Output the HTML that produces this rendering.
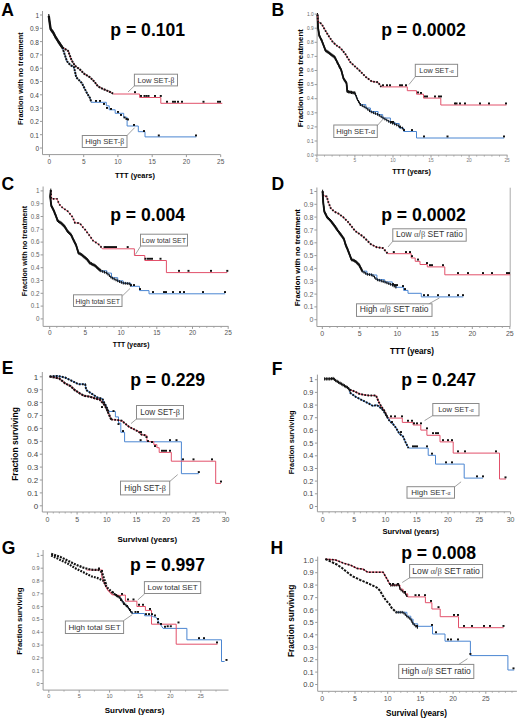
<!DOCTYPE html>
<html><head><meta charset="utf-8"><style>
html,body{margin:0;padding:0;background:#fff;width:520px;height:721px;overflow:hidden;}
svg{display:block;}
</style></head><body>
<svg width="520" height="721" viewBox="0 0 520 721">
<rect width="520" height="721" fill="#fff"/>
<line x1="42.5" y1="11.0" x2="42.5" y2="154.6" stroke="#9a9a9a" stroke-width="1"/>
<line x1="42.5" y1="154.6" x2="220.6" y2="154.6" stroke="#9a9a9a" stroke-width="1"/>
<line x1="40.0" y1="148.0" x2="42.5" y2="148.0" stroke="#9a9a9a" stroke-width="1"/>
<text x="39.0" y="150.9" font-size="6.5" font-weight="normal" fill="#444" text-anchor="end" font-family='"Liberation Sans", sans-serif'>0</text>
<line x1="40.0" y1="134.7" x2="42.5" y2="134.7" stroke="#9a9a9a" stroke-width="1"/>
<text x="39.0" y="137.6" font-size="6.5" font-weight="normal" fill="#444" text-anchor="end" font-family='"Liberation Sans", sans-serif'>0.1</text>
<line x1="40.0" y1="121.4" x2="42.5" y2="121.4" stroke="#9a9a9a" stroke-width="1"/>
<text x="39.0" y="124.3" font-size="6.5" font-weight="normal" fill="#444" text-anchor="end" font-family='"Liberation Sans", sans-serif'>0.2</text>
<line x1="40.0" y1="108.1" x2="42.5" y2="108.1" stroke="#9a9a9a" stroke-width="1"/>
<text x="39.0" y="111.0" font-size="6.5" font-weight="normal" fill="#444" text-anchor="end" font-family='"Liberation Sans", sans-serif'>0.3</text>
<line x1="40.0" y1="94.8" x2="42.5" y2="94.8" stroke="#9a9a9a" stroke-width="1"/>
<text x="39.0" y="97.7" font-size="6.5" font-weight="normal" fill="#444" text-anchor="end" font-family='"Liberation Sans", sans-serif'>0.4</text>
<line x1="40.0" y1="81.5" x2="42.5" y2="81.5" stroke="#9a9a9a" stroke-width="1"/>
<text x="39.0" y="84.4" font-size="6.5" font-weight="normal" fill="#444" text-anchor="end" font-family='"Liberation Sans", sans-serif'>0.5</text>
<line x1="40.0" y1="68.2" x2="42.5" y2="68.2" stroke="#9a9a9a" stroke-width="1"/>
<text x="39.0" y="71.1" font-size="6.5" font-weight="normal" fill="#444" text-anchor="end" font-family='"Liberation Sans", sans-serif'>0.6</text>
<line x1="40.0" y1="54.9" x2="42.5" y2="54.9" stroke="#9a9a9a" stroke-width="1"/>
<text x="39.0" y="57.8" font-size="6.5" font-weight="normal" fill="#444" text-anchor="end" font-family='"Liberation Sans", sans-serif'>0.7</text>
<line x1="40.0" y1="41.6" x2="42.5" y2="41.6" stroke="#9a9a9a" stroke-width="1"/>
<text x="39.0" y="44.5" font-size="6.5" font-weight="normal" fill="#444" text-anchor="end" font-family='"Liberation Sans", sans-serif'>0.8</text>
<line x1="40.0" y1="28.3" x2="42.5" y2="28.3" stroke="#9a9a9a" stroke-width="1"/>
<text x="39.0" y="31.2" font-size="6.5" font-weight="normal" fill="#444" text-anchor="end" font-family='"Liberation Sans", sans-serif'>0.9</text>
<line x1="40.0" y1="15.0" x2="42.5" y2="15.0" stroke="#9a9a9a" stroke-width="1"/>
<text x="39.0" y="17.9" font-size="6.5" font-weight="normal" fill="#444" text-anchor="end" font-family='"Liberation Sans", sans-serif'>1</text>
<line x1="49.4" y1="154.6" x2="49.4" y2="157.1" stroke="#9a9a9a" stroke-width="1"/>
<text x="49.4" y="163.6" font-size="6.5" font-weight="normal" fill="#555" text-anchor="middle" font-family='"Liberation Sans", sans-serif'>0</text>
<line x1="83.7" y1="154.6" x2="83.7" y2="157.1" stroke="#9a9a9a" stroke-width="1"/>
<text x="83.7" y="163.6" font-size="6.5" font-weight="normal" fill="#555" text-anchor="middle" font-family='"Liberation Sans", sans-serif'>5</text>
<line x1="117.9" y1="154.6" x2="117.9" y2="157.1" stroke="#9a9a9a" stroke-width="1"/>
<text x="117.9" y="163.6" font-size="6.5" font-weight="normal" fill="#555" text-anchor="middle" font-family='"Liberation Sans", sans-serif'>10</text>
<line x1="152.2" y1="154.6" x2="152.2" y2="157.1" stroke="#9a9a9a" stroke-width="1"/>
<text x="152.2" y="163.6" font-size="6.5" font-weight="normal" fill="#555" text-anchor="middle" font-family='"Liberation Sans", sans-serif'>15</text>
<line x1="186.4" y1="154.6" x2="186.4" y2="157.1" stroke="#9a9a9a" stroke-width="1"/>
<text x="186.4" y="163.6" font-size="6.5" font-weight="normal" fill="#555" text-anchor="middle" font-family='"Liberation Sans", sans-serif'>20</text>
<line x1="220.7" y1="154.6" x2="220.7" y2="157.1" stroke="#9a9a9a" stroke-width="1"/>
<text x="220.7" y="163.6" font-size="6.5" font-weight="normal" fill="#555" text-anchor="middle" font-family='"Liberation Sans", sans-serif'>25</text>
<text x="1.3" y="16.3" font-size="17.5" font-weight="bold" fill="#000" text-anchor="start" font-family='"Liberation Sans", sans-serif'>A</text>
<text x="110.3" y="36.2" font-size="17.6" font-weight="bold" fill="#000" text-anchor="start" font-family='"Liberation Sans", sans-serif'>p = 0.101</text>
<text x="23.0" y="78.6" font-size="7.4" font-weight="bold" fill="#000" text-anchor="middle" font-family='"Liberation Sans", sans-serif' transform="rotate(-90 23 78.6)">Fraction with no treatment</text>
<text x="135.0" y="178.0" font-size="7.4" font-weight="bold" fill="#000" text-anchor="middle" font-family='"Liberation Sans", sans-serif'>TTT (years)</text>
<polyline points="91.3,102.3 106.3,102.3 106.3,105.8 109.2,105.8 109.2,109.8 115.2,109.8 115.2,113.3 123.7,113.3 123.7,117.3 127.1,117.3 127.1,120.8 127.1,120.8 127.1,126.0 138.3,126.0 138.3,131.7 145.0,131.7 145.0,136.9 196.3,136.9 196.3,136.9" fill="none" stroke="#4b86d2" stroke-width="1" stroke-linecap="butt" stroke-linejoin="miter"/>
<polyline points="113.1,94.0 139.6,94.0 139.6,97.5 160.8,97.5 160.8,103.3 222.3,103.3 222.3,103.3" fill="none" stroke="#e2506a" stroke-width="1" stroke-linecap="butt" stroke-linejoin="miter"/>
<polyline points="62.3,47.3 64.6,54.2 66.9,61.2 70.4,65.2 73.8,66.9 75.0,71.5 76.2,77.3 78.5,79.6 81.9,83.1 84.2,87.7 86.5,92.3 90.0,98.1 91.3,102.3" fill="none" stroke="#4b86d2" stroke-width="1"/>
<polyline points="62.3,47.3 68.1,50.8 71.5,60.0 75.0,65.8 79.6,69.2 84.2,73.8 90.0,77.3 94.6,81.9 98.1,86.5 102.7,88.8 108.5,91.2 113.1,93.6" fill="none" stroke="#e2506a" stroke-width="1"/>
<polyline points="48.8,15.8 49.6,22.0 50.6,29.0 53.2,32.5 55.5,37.0 58.0,41.0 60.3,44.5 62.3,47.3" fill="none" stroke="#111" stroke-width="2.3" stroke-linejoin="round"/>
<path d="M48.8 14.1v3.4M49.0 15.5v3.4M49.2 16.9v3.4M49.3 18.3v3.4M49.5 19.7v3.4M49.7 21.0v3.4M49.9 22.4v3.4M50.1 23.8v3.4M50.3 25.2v3.4M50.5 26.6v3.4M51.0 27.8v3.4M51.8 29.0v3.4M52.7 30.1v3.4M53.4 31.3v3.4M54.1 32.5v3.4M54.7 33.8v3.4M55.3 35.0v3.4M56.1 36.2v3.4M56.8 37.4v3.4M57.5 38.6v3.4M58.3 39.8v3.4M59.1 40.9v3.4M59.8 42.1v3.4M60.6 43.3v3.4M61.4 44.4v3.4M62.3 45.5v3.4" stroke="#111" stroke-width="1.1" fill="none"/>
<polyline points="62.3,47.3 64.6,54.2 66.9,61.2 70.4,65.2 73.8,66.9 75.0,71.5 76.2,77.3 78.5,79.6 81.9,83.1 84.2,87.7 86.5,92.3 90.0,98.1 91.3,102.3" fill="none" stroke="#111" stroke-width="2.0" stroke-linejoin="round" stroke-linecap="butt" stroke-dasharray="2 0.9"/>
<polyline points="62.3,47.3 68.1,50.8 71.5,60.0 75.0,65.8 79.6,69.2 84.2,73.8 90.0,77.3 94.6,81.9 98.1,86.5 102.7,88.8 108.5,91.2 113.1,93.6" fill="none" stroke="#111" stroke-width="2.0" stroke-linejoin="round" stroke-linecap="butt" stroke-dasharray="2 0.9"/>
<rect x="134.0" y="91.2" width="2.0" height="1.9" fill="#111"/>
<rect x="140.0" y="95.0" width="2.0" height="1.9" fill="#111"/>
<rect x="143.5" y="95.0" width="2.0" height="1.9" fill="#111"/>
<rect x="145.5" y="95.0" width="2.0" height="1.9" fill="#111"/>
<rect x="147.5" y="95.0" width="2.0" height="1.9" fill="#111"/>
<rect x="154.0" y="95.0" width="2.0" height="1.9" fill="#111"/>
<rect x="159.8" y="95.0" width="2.0" height="1.9" fill="#111"/>
<rect x="166.0" y="100.8" width="2.0" height="1.9" fill="#111"/>
<rect x="172.0" y="100.8" width="2.0" height="1.9" fill="#111"/>
<rect x="174.0" y="100.8" width="2.0" height="1.9" fill="#111"/>
<rect x="177.0" y="100.8" width="2.0" height="1.9" fill="#111"/>
<rect x="181.0" y="100.8" width="2.0" height="1.9" fill="#111"/>
<rect x="202.5" y="100.8" width="2.0" height="1.9" fill="#111"/>
<rect x="217.0" y="100.8" width="2.0" height="1.9" fill="#111"/>
<rect x="219.0" y="100.8" width="2.0" height="1.9" fill="#111"/>
<rect x="95.0" y="100.0" width="2.0" height="1.9" fill="#111"/>
<rect x="99.0" y="100.0" width="2.0" height="1.9" fill="#111"/>
<rect x="103.0" y="103.0" width="2.0" height="1.9" fill="#111"/>
<rect x="106.0" y="107.0" width="2.0" height="1.9" fill="#111"/>
<rect x="110.0" y="108.0" width="2.0" height="1.9" fill="#111"/>
<rect x="117.0" y="111.0" width="2.0" height="1.9" fill="#111"/>
<rect x="120.0" y="114.0" width="2.0" height="1.9" fill="#111"/>
<rect x="123.5" y="116.5" width="2.0" height="1.9" fill="#111"/>
<rect x="125.5" y="118.0" width="2.0" height="1.9" fill="#111"/>
<rect x="127.0" y="118.5" width="2.0" height="1.9" fill="#111"/>
<rect x="133.0" y="124.0" width="2.0" height="1.9" fill="#111"/>
<rect x="143.0" y="130.1" width="2.0" height="1.9" fill="#111"/>
<rect x="157.8" y="134.5" width="2.0" height="1.9" fill="#111"/>
<rect x="195.0" y="134.5" width="2.0" height="1.9" fill="#111"/>
<rect x="134.4" y="74.2" width="43.1" height="11.7" fill="#fff" stroke="#8a8a8a" stroke-width="1"/>
<text x="155.9" y="82.6" font-size="7.6" font-weight="normal" fill="#333" text-anchor="middle" font-family='"Liberation Sans", sans-serif'>Low SET-<tspan font-family='"Liberation Serif", serif'>β</tspan></text>
<line x1="134.4" y1="85.9" x2="128.0" y2="92.0" stroke="#8a8a8a" stroke-width="0.8"/>
<rect x="82.3" y="135.5" width="44.7" height="12.0" fill="#fff" stroke="#8a8a8a" stroke-width="1"/>
<text x="104.7" y="143.5" font-size="7.7" font-weight="normal" fill="#333" text-anchor="middle" font-family='"Liberation Sans", sans-serif'>High SET-<tspan font-family='"Liberation Serif", serif'>β</tspan></text>
<line x1="127.0" y1="135.5" x2="134.6" y2="127.7" stroke="#8a8a8a" stroke-width="0.8"/>
<line x1="317.1" y1="13.6" x2="317.1" y2="155.1" stroke="#9a9a9a" stroke-width="1"/>
<line x1="317.1" y1="155.1" x2="507.5" y2="155.1" stroke="#9a9a9a" stroke-width="1"/>
<line x1="314.6" y1="155.1" x2="317.1" y2="155.1" stroke="#9a9a9a" stroke-width="1"/>
<text x="313.6" y="156.8" font-size="4.8" font-weight="normal" fill="#666" text-anchor="end" font-family='"Liberation Sans", sans-serif'>0.0</text>
<line x1="314.6" y1="141.0" x2="317.1" y2="141.0" stroke="#9a9a9a" stroke-width="1"/>
<text x="313.6" y="142.7" font-size="4.8" font-weight="normal" fill="#666" text-anchor="end" font-family='"Liberation Sans", sans-serif'>0.1</text>
<line x1="314.6" y1="126.9" x2="317.1" y2="126.9" stroke="#9a9a9a" stroke-width="1"/>
<text x="313.6" y="128.6" font-size="4.8" font-weight="normal" fill="#666" text-anchor="end" font-family='"Liberation Sans", sans-serif'>0.2</text>
<line x1="314.6" y1="112.8" x2="317.1" y2="112.8" stroke="#9a9a9a" stroke-width="1"/>
<text x="313.6" y="114.5" font-size="4.8" font-weight="normal" fill="#666" text-anchor="end" font-family='"Liberation Sans", sans-serif'>0.3</text>
<line x1="314.6" y1="98.7" x2="317.1" y2="98.7" stroke="#9a9a9a" stroke-width="1"/>
<text x="313.6" y="100.4" font-size="4.8" font-weight="normal" fill="#666" text-anchor="end" font-family='"Liberation Sans", sans-serif'>0.4</text>
<line x1="314.6" y1="84.6" x2="317.1" y2="84.6" stroke="#9a9a9a" stroke-width="1"/>
<text x="313.6" y="86.3" font-size="4.8" font-weight="normal" fill="#666" text-anchor="end" font-family='"Liberation Sans", sans-serif'>0.5</text>
<line x1="314.6" y1="70.5" x2="317.1" y2="70.5" stroke="#9a9a9a" stroke-width="1"/>
<text x="313.6" y="72.2" font-size="4.8" font-weight="normal" fill="#666" text-anchor="end" font-family='"Liberation Sans", sans-serif'>0.6</text>
<line x1="314.6" y1="56.4" x2="317.1" y2="56.4" stroke="#9a9a9a" stroke-width="1"/>
<text x="313.6" y="58.1" font-size="4.8" font-weight="normal" fill="#666" text-anchor="end" font-family='"Liberation Sans", sans-serif'>0.7</text>
<line x1="314.6" y1="42.3" x2="317.1" y2="42.3" stroke="#9a9a9a" stroke-width="1"/>
<text x="313.6" y="44.0" font-size="4.8" font-weight="normal" fill="#666" text-anchor="end" font-family='"Liberation Sans", sans-serif'>0.8</text>
<line x1="314.6" y1="28.2" x2="317.1" y2="28.2" stroke="#9a9a9a" stroke-width="1"/>
<text x="313.6" y="29.9" font-size="4.8" font-weight="normal" fill="#666" text-anchor="end" font-family='"Liberation Sans", sans-serif'>0.9</text>
<line x1="314.6" y1="14.1" x2="317.1" y2="14.1" stroke="#9a9a9a" stroke-width="1"/>
<text x="313.6" y="15.8" font-size="4.8" font-weight="normal" fill="#666" text-anchor="end" font-family='"Liberation Sans", sans-serif'>1.0</text>
<line x1="316.9" y1="155.1" x2="316.9" y2="157.6" stroke="#9a9a9a" stroke-width="1"/>
<text x="316.9" y="161.7" font-size="4.8" font-weight="normal" fill="#777" text-anchor="middle" font-family='"Liberation Sans", sans-serif'>0</text>
<line x1="354.9" y1="155.1" x2="354.9" y2="157.6" stroke="#9a9a9a" stroke-width="1"/>
<text x="354.9" y="161.7" font-size="4.8" font-weight="normal" fill="#777" text-anchor="middle" font-family='"Liberation Sans", sans-serif'>5</text>
<line x1="393.0" y1="155.1" x2="393.0" y2="157.6" stroke="#9a9a9a" stroke-width="1"/>
<text x="393.0" y="161.7" font-size="4.8" font-weight="normal" fill="#777" text-anchor="middle" font-family='"Liberation Sans", sans-serif'>10</text>
<line x1="431.0" y1="155.1" x2="431.0" y2="157.6" stroke="#9a9a9a" stroke-width="1"/>
<text x="431.0" y="161.7" font-size="4.8" font-weight="normal" fill="#777" text-anchor="middle" font-family='"Liberation Sans", sans-serif'>15</text>
<line x1="469.1" y1="155.1" x2="469.1" y2="157.6" stroke="#9a9a9a" stroke-width="1"/>
<text x="469.1" y="161.7" font-size="4.8" font-weight="normal" fill="#777" text-anchor="middle" font-family='"Liberation Sans", sans-serif'>20</text>
<line x1="507.1" y1="155.1" x2="507.1" y2="157.6" stroke="#9a9a9a" stroke-width="1"/>
<text x="507.1" y="161.7" font-size="4.8" font-weight="normal" fill="#777" text-anchor="middle" font-family='"Liberation Sans", sans-serif'>25</text>
<line x1="324.5" y1="155.1" x2="324.5" y2="156.6" stroke="#9a9a9a" stroke-width="0.8"/>
<line x1="332.1" y1="155.1" x2="332.1" y2="156.6" stroke="#9a9a9a" stroke-width="0.8"/>
<line x1="339.7" y1="155.1" x2="339.7" y2="156.6" stroke="#9a9a9a" stroke-width="0.8"/>
<line x1="347.3" y1="155.1" x2="347.3" y2="156.6" stroke="#9a9a9a" stroke-width="0.8"/>
<line x1="362.6" y1="155.1" x2="362.6" y2="156.6" stroke="#9a9a9a" stroke-width="0.8"/>
<line x1="370.2" y1="155.1" x2="370.2" y2="156.6" stroke="#9a9a9a" stroke-width="0.8"/>
<line x1="377.8" y1="155.1" x2="377.8" y2="156.6" stroke="#9a9a9a" stroke-width="0.8"/>
<line x1="385.4" y1="155.1" x2="385.4" y2="156.6" stroke="#9a9a9a" stroke-width="0.8"/>
<line x1="400.6" y1="155.1" x2="400.6" y2="156.6" stroke="#9a9a9a" stroke-width="0.8"/>
<line x1="408.2" y1="155.1" x2="408.2" y2="156.6" stroke="#9a9a9a" stroke-width="0.8"/>
<line x1="415.8" y1="155.1" x2="415.8" y2="156.6" stroke="#9a9a9a" stroke-width="0.8"/>
<line x1="423.4" y1="155.1" x2="423.4" y2="156.6" stroke="#9a9a9a" stroke-width="0.8"/>
<line x1="438.7" y1="155.1" x2="438.7" y2="156.6" stroke="#9a9a9a" stroke-width="0.8"/>
<line x1="446.3" y1="155.1" x2="446.3" y2="156.6" stroke="#9a9a9a" stroke-width="0.8"/>
<line x1="453.9" y1="155.1" x2="453.9" y2="156.6" stroke="#9a9a9a" stroke-width="0.8"/>
<line x1="461.5" y1="155.1" x2="461.5" y2="156.6" stroke="#9a9a9a" stroke-width="0.8"/>
<line x1="476.7" y1="155.1" x2="476.7" y2="156.6" stroke="#9a9a9a" stroke-width="0.8"/>
<line x1="484.3" y1="155.1" x2="484.3" y2="156.6" stroke="#9a9a9a" stroke-width="0.8"/>
<line x1="491.9" y1="155.1" x2="491.9" y2="156.6" stroke="#9a9a9a" stroke-width="0.8"/>
<line x1="499.5" y1="155.1" x2="499.5" y2="156.6" stroke="#9a9a9a" stroke-width="0.8"/>
<text x="271.4" y="16.2" font-size="17.5" font-weight="bold" fill="#000" text-anchor="start" font-family='"Liberation Sans", sans-serif'>B</text>
<text x="381.2" y="36.3" font-size="17.6" font-weight="bold" fill="#000" text-anchor="start" font-family='"Liberation Sans", sans-serif'>p = 0.0002</text>
<text x="303.3" y="78.2" font-size="7.8" font-weight="bold" fill="#000" text-anchor="middle" font-family='"Liberation Sans", sans-serif' transform="rotate(-90 303.3 78.2)">Fraction with no treatment</text>
<text x="411.5" y="173.5" font-size="7.2" font-weight="bold" fill="#000" text-anchor="middle" font-family='"Liberation Sans", sans-serif'>TTT (years)</text>
<polyline points="360.4,104.6 365.8,104.6 365.8,108.0 370.4,108.0 370.4,111.5 378.1,111.5 378.1,114.6 382.7,114.6 382.7,118.0 390.4,118.0 390.4,122.3 395.0,122.3 395.0,123.5 399.2,123.5 399.2,128.1 403.7,128.1 403.7,131.5 416.5,131.5 416.5,138.0 504.2,138.0 504.2,138.0" fill="none" stroke="#4b86d2" stroke-width="1" stroke-linecap="butt" stroke-linejoin="miter"/>
<polyline points="381.2,86.9 407.3,86.9 407.3,90.7 416.5,90.7 416.5,94.2 423.5,94.2 423.5,98.1 440.8,98.1 440.8,105.0 506.5,105.0 506.5,105.0" fill="none" stroke="#e2506a" stroke-width="1" stroke-linecap="butt" stroke-linejoin="miter"/>
<polyline points="317.5,14.6 318.0,27.3 319.2,35.4 322.0,41.2 325.5,50.4 330.2,53.8 334.8,57.3 338.2,64.2 341.2,70.0 343.5,78.5 346.5,83.1 347.3,91.5 355.0,93.1" fill="none" stroke="#111" stroke-width="1.8" stroke-linejoin="round"/>
<path d="M317.5 13.0v3.2M317.6 14.5v3.2M317.6 16.0v3.2M317.7 17.5v3.2M317.7 19.0v3.2M317.8 20.5v3.2M317.9 22.0v3.2M317.9 23.5v3.2M318.0 25.0v3.2M318.1 26.5v3.2M318.3 28.0v3.2M318.6 29.4v3.2M318.8 30.9v3.2M319.0 32.4v3.2M319.2 33.9v3.2M319.9 35.2v3.2M320.5 36.6v3.2M321.2 37.9v3.2M321.9 39.3v3.2M322.4 40.7v3.2M322.9 42.1v3.2M323.5 43.5v3.2M324.0 44.9v3.2M324.5 46.3v3.2M325.1 47.7v3.2M325.8 49.0v3.2M327.0 49.9v3.2M328.2 50.7v3.2M329.4 51.6v3.2M330.6 52.5v3.2M331.8 53.4v3.2M333.0 54.3v3.2M334.2 55.2v3.2M335.1 56.4v3.2M335.8 57.7v3.2M336.5 59.1v3.2M337.1 60.4v3.2M337.8 61.7v3.2M338.5 63.1v3.2M339.1 64.4v3.2M339.8 65.7v3.2M340.5 67.1v3.2M341.2 68.4v3.2M341.6 69.9v3.2M342.0 71.3v3.2M342.4 72.8v3.2M342.8 74.2v3.2M343.2 75.7v3.2M343.6 77.1v3.2M344.4 78.3v3.2M345.3 79.6v3.2M346.1 80.8v3.2M346.6 82.2v3.2M346.7 83.7v3.2M346.9 85.2v3.2M347.0 86.7v3.2M347.1 88.2v3.2M347.3 89.7v3.2M348.6 90.2v3.2M350.0 90.5v3.2M351.5 90.8v3.2M353.0 91.1v3.2M354.4 91.4v3.2" stroke="#111" stroke-width="1.0" fill="none"/>
<polyline points="355.0,93.1 357.3,99.2 360.4,104.6" fill="none" stroke="#4b86d2" stroke-width="1.0" stroke-linejoin="round"/>
<polyline points="355.0,93.1 357.3,99.2 360.4,104.6" fill="none" stroke="#111" stroke-width="0.9" stroke-linejoin="round"/>
<path d="M355.0 91.7v2.8M355.6 93.4v2.8M356.3 95.1v2.8M356.9 96.8v2.8M357.6 98.4v2.8M358.5 100.0v2.8M359.4 101.5v2.8M360.3 103.1v2.8" stroke="#111" stroke-width="1.0" fill="none"/>
<polyline points="317.5,14.6 318.0,21.5 321.5,23.8 325.5,30.8 329.0,36.5 333.0,42.3 337.0,45.8 340.5,48.0 345.2,53.8 350.4,62.3 358.1,69.2 365.8,76.9 371.9,81.5 378.1,82.3 381.2,86.9" fill="none" stroke="#e2506a" stroke-width="1.0"/>
<polyline points="317.5,14.6 318.0,21.5 321.5,23.8 325.5,30.8 329.0,36.5 333.0,42.3 337.0,45.8 340.5,48.0 345.2,53.8 350.4,62.3 358.1,69.2 365.8,76.9 371.9,81.5 378.1,82.3 381.2,86.9" fill="none" stroke="#111" stroke-width="1.9" stroke-linejoin="round" stroke-linecap="butt" stroke-dasharray="1.7 1.4"/>
<polyline points="360.4,104.6 365.8,107.7 370.4,111.5 378.1,114.6 382.7,117.7 390.4,122.3 398.0,125.4 404.2,129.2" fill="none" stroke="#4b86d2" stroke-width="1.0" stroke-linejoin="round"/>
<polyline points="360.4,104.6 365.8,107.7 370.4,111.5 378.1,114.6 382.7,117.7 390.4,122.3 398.0,125.4 404.2,129.2" fill="none" stroke="#111" stroke-width="0.6" stroke-linejoin="round"/>
<path d="M360.4 103.2v2.8M362.3 104.3v2.8M364.2 105.4v2.8M366.1 106.5v2.8M367.8 107.9v2.8M369.5 109.3v2.8M371.3 110.5v2.8M373.4 111.3v2.8M375.4 112.1v2.8M377.5 112.9v2.8M379.3 114.0v2.8M381.2 115.3v2.8M383.0 116.5v2.8M384.9 117.6v2.8M386.8 118.7v2.8M388.7 119.9v2.8M390.6 121.0v2.8M392.6 121.8v2.8M394.6 122.6v2.8M396.7 123.5v2.8M398.7 124.4v2.8M400.5 125.6v2.8M402.4 126.7v2.8" stroke="#111" stroke-width="1.0" fill="none"/>
<rect x="382.0" y="84.3" width="2.0" height="1.9" fill="#111"/>
<rect x="386.0" y="84.3" width="2.0" height="1.9" fill="#111"/>
<rect x="389.0" y="84.3" width="2.0" height="1.9" fill="#111"/>
<rect x="399.0" y="84.3" width="2.0" height="1.9" fill="#111"/>
<rect x="401.0" y="84.3" width="2.0" height="1.9" fill="#111"/>
<rect x="405.0" y="84.3" width="2.0" height="1.9" fill="#111"/>
<rect x="417.0" y="91.5" width="2.0" height="1.9" fill="#111"/>
<rect x="420.0" y="92.0" width="2.0" height="1.9" fill="#111"/>
<rect x="424.0" y="95.5" width="2.0" height="1.9" fill="#111"/>
<rect x="426.0" y="95.5" width="2.0" height="1.9" fill="#111"/>
<rect x="434.0" y="95.5" width="2.0" height="1.9" fill="#111"/>
<rect x="438.0" y="95.5" width="2.0" height="1.9" fill="#111"/>
<rect x="440.0" y="95.5" width="2.0" height="1.9" fill="#111"/>
<rect x="454.0" y="102.5" width="2.0" height="1.9" fill="#111"/>
<rect x="455.5" y="102.5" width="2.0" height="1.9" fill="#111"/>
<rect x="459.0" y="102.5" width="2.0" height="1.9" fill="#111"/>
<rect x="464.0" y="102.5" width="2.0" height="1.9" fill="#111"/>
<rect x="479.0" y="102.5" width="2.0" height="1.9" fill="#111"/>
<rect x="488.0" y="102.5" width="2.0" height="1.9" fill="#111"/>
<rect x="505.0" y="102.5" width="2.0" height="1.9" fill="#111"/>
<rect x="390.0" y="121.0" width="2.0" height="1.9" fill="#111"/>
<rect x="392.0" y="121.0" width="2.0" height="1.9" fill="#111"/>
<rect x="399.0" y="126.0" width="2.0" height="1.9" fill="#111"/>
<rect x="403.0" y="129.1" width="2.0" height="1.9" fill="#111"/>
<rect x="411.0" y="129.1" width="2.0" height="1.9" fill="#111"/>
<rect x="423.0" y="135.5" width="2.0" height="1.9" fill="#111"/>
<rect x="446.5" y="135.5" width="2.0" height="1.9" fill="#111"/>
<rect x="503.0" y="135.5" width="2.0" height="1.9" fill="#111"/>
<rect x="415.3" y="64.3" width="42.3" height="12.2" fill="#fff" stroke="#8a8a8a" stroke-width="1"/>
<text x="436.5" y="72.8" font-size="7.3" font-weight="normal" fill="#333" text-anchor="middle" font-family='"Liberation Sans", sans-serif'>Low SET<tspan font-size="5.5">-</tspan><tspan font-family='"Liberation Serif", serif' font-size="5.5">α</tspan></text>
<line x1="415.4" y1="76.6" x2="409.0" y2="84.5" stroke="#8a8a8a" stroke-width="0.8"/>
<rect x="333.8" y="125.0" width="43.5" height="12.5" fill="#fff" stroke="#8a8a8a" stroke-width="1"/>
<text x="355.6" y="133.6" font-size="7.6" font-weight="normal" fill="#333" text-anchor="middle" font-family='"Liberation Sans", sans-serif'>High SET-<tspan font-family='"Liberation Serif", serif'>α</tspan></text>
<line x1="376.9" y1="126.0" x2="383.0" y2="119.2" stroke="#8a8a8a" stroke-width="0.8"/>
<line x1="43.1" y1="186.5" x2="43.1" y2="326.4" stroke="#9a9a9a" stroke-width="1"/>
<line x1="43.1" y1="326.4" x2="228.5" y2="326.4" stroke="#9a9a9a" stroke-width="1"/>
<line x1="40.6" y1="318.9" x2="43.1" y2="318.9" stroke="#9a9a9a" stroke-width="1"/>
<text x="39.6" y="321.2" font-size="6.3" font-weight="normal" fill="#666" text-anchor="end" font-family='"Liberation Sans", sans-serif'>0</text>
<line x1="40.6" y1="306.1" x2="43.1" y2="306.1" stroke="#9a9a9a" stroke-width="1"/>
<text x="39.6" y="308.4" font-size="6.3" font-weight="normal" fill="#666" text-anchor="end" font-family='"Liberation Sans", sans-serif'>0.1</text>
<line x1="40.6" y1="293.3" x2="43.1" y2="293.3" stroke="#9a9a9a" stroke-width="1"/>
<text x="39.6" y="295.6" font-size="6.3" font-weight="normal" fill="#666" text-anchor="end" font-family='"Liberation Sans", sans-serif'>0.2</text>
<line x1="40.6" y1="280.5" x2="43.1" y2="280.5" stroke="#9a9a9a" stroke-width="1"/>
<text x="39.6" y="282.8" font-size="6.3" font-weight="normal" fill="#666" text-anchor="end" font-family='"Liberation Sans", sans-serif'>0.3</text>
<line x1="40.6" y1="267.7" x2="43.1" y2="267.7" stroke="#9a9a9a" stroke-width="1"/>
<text x="39.6" y="270.0" font-size="6.3" font-weight="normal" fill="#666" text-anchor="end" font-family='"Liberation Sans", sans-serif'>0.4</text>
<line x1="40.6" y1="254.9" x2="43.1" y2="254.9" stroke="#9a9a9a" stroke-width="1"/>
<text x="39.6" y="257.2" font-size="6.3" font-weight="normal" fill="#666" text-anchor="end" font-family='"Liberation Sans", sans-serif'>0.5</text>
<line x1="40.6" y1="242.1" x2="43.1" y2="242.1" stroke="#9a9a9a" stroke-width="1"/>
<text x="39.6" y="244.4" font-size="6.3" font-weight="normal" fill="#666" text-anchor="end" font-family='"Liberation Sans", sans-serif'>0.6</text>
<line x1="40.6" y1="229.3" x2="43.1" y2="229.3" stroke="#9a9a9a" stroke-width="1"/>
<text x="39.6" y="231.6" font-size="6.3" font-weight="normal" fill="#666" text-anchor="end" font-family='"Liberation Sans", sans-serif'>0.7</text>
<line x1="40.6" y1="216.5" x2="43.1" y2="216.5" stroke="#9a9a9a" stroke-width="1"/>
<text x="39.6" y="218.8" font-size="6.3" font-weight="normal" fill="#666" text-anchor="end" font-family='"Liberation Sans", sans-serif'>0.8</text>
<line x1="40.6" y1="203.7" x2="43.1" y2="203.7" stroke="#9a9a9a" stroke-width="1"/>
<text x="39.6" y="206.0" font-size="6.3" font-weight="normal" fill="#666" text-anchor="end" font-family='"Liberation Sans", sans-serif'>0.9</text>
<line x1="40.6" y1="190.9" x2="43.1" y2="190.9" stroke="#9a9a9a" stroke-width="1"/>
<text x="39.6" y="193.2" font-size="6.3" font-weight="normal" fill="#666" text-anchor="end" font-family='"Liberation Sans", sans-serif'>1</text>
<line x1="49.7" y1="326.4" x2="49.7" y2="328.9" stroke="#9a9a9a" stroke-width="1"/>
<text x="49.7" y="335.4" font-size="6.5" font-weight="normal" fill="#555" text-anchor="middle" font-family='"Liberation Sans", sans-serif'>0</text>
<line x1="85.4" y1="326.4" x2="85.4" y2="328.9" stroke="#9a9a9a" stroke-width="1"/>
<text x="85.4" y="335.4" font-size="6.5" font-weight="normal" fill="#555" text-anchor="middle" font-family='"Liberation Sans", sans-serif'>5</text>
<line x1="121.1" y1="326.4" x2="121.1" y2="328.9" stroke="#9a9a9a" stroke-width="1"/>
<text x="121.1" y="335.4" font-size="6.5" font-weight="normal" fill="#555" text-anchor="middle" font-family='"Liberation Sans", sans-serif'>10</text>
<line x1="156.8" y1="326.4" x2="156.8" y2="328.9" stroke="#9a9a9a" stroke-width="1"/>
<text x="156.8" y="335.4" font-size="6.5" font-weight="normal" fill="#555" text-anchor="middle" font-family='"Liberation Sans", sans-serif'>15</text>
<line x1="192.5" y1="326.4" x2="192.5" y2="328.9" stroke="#9a9a9a" stroke-width="1"/>
<text x="192.5" y="335.4" font-size="6.5" font-weight="normal" fill="#555" text-anchor="middle" font-family='"Liberation Sans", sans-serif'>20</text>
<line x1="228.2" y1="326.4" x2="228.2" y2="328.9" stroke="#9a9a9a" stroke-width="1"/>
<text x="228.2" y="335.4" font-size="6.5" font-weight="normal" fill="#555" text-anchor="middle" font-family='"Liberation Sans", sans-serif'>25</text>
<line x1="56.8" y1="326.4" x2="56.8" y2="327.9" stroke="#9a9a9a" stroke-width="0.8"/>
<line x1="64.0" y1="326.4" x2="64.0" y2="327.9" stroke="#9a9a9a" stroke-width="0.8"/>
<line x1="71.1" y1="326.4" x2="71.1" y2="327.9" stroke="#9a9a9a" stroke-width="0.8"/>
<line x1="78.3" y1="326.4" x2="78.3" y2="327.9" stroke="#9a9a9a" stroke-width="0.8"/>
<line x1="92.5" y1="326.4" x2="92.5" y2="327.9" stroke="#9a9a9a" stroke-width="0.8"/>
<line x1="99.7" y1="326.4" x2="99.7" y2="327.9" stroke="#9a9a9a" stroke-width="0.8"/>
<line x1="106.8" y1="326.4" x2="106.8" y2="327.9" stroke="#9a9a9a" stroke-width="0.8"/>
<line x1="114.0" y1="326.4" x2="114.0" y2="327.9" stroke="#9a9a9a" stroke-width="0.8"/>
<line x1="128.2" y1="326.4" x2="128.2" y2="327.9" stroke="#9a9a9a" stroke-width="0.8"/>
<line x1="135.4" y1="326.4" x2="135.4" y2="327.9" stroke="#9a9a9a" stroke-width="0.8"/>
<line x1="142.5" y1="326.4" x2="142.5" y2="327.9" stroke="#9a9a9a" stroke-width="0.8"/>
<line x1="149.7" y1="326.4" x2="149.7" y2="327.9" stroke="#9a9a9a" stroke-width="0.8"/>
<line x1="163.9" y1="326.4" x2="163.9" y2="327.9" stroke="#9a9a9a" stroke-width="0.8"/>
<line x1="171.1" y1="326.4" x2="171.1" y2="327.9" stroke="#9a9a9a" stroke-width="0.8"/>
<line x1="178.2" y1="326.4" x2="178.2" y2="327.9" stroke="#9a9a9a" stroke-width="0.8"/>
<line x1="185.4" y1="326.4" x2="185.4" y2="327.9" stroke="#9a9a9a" stroke-width="0.8"/>
<line x1="199.6" y1="326.4" x2="199.6" y2="327.9" stroke="#9a9a9a" stroke-width="0.8"/>
<line x1="206.8" y1="326.4" x2="206.8" y2="327.9" stroke="#9a9a9a" stroke-width="0.8"/>
<line x1="213.9" y1="326.4" x2="213.9" y2="327.9" stroke="#9a9a9a" stroke-width="0.8"/>
<line x1="221.1" y1="326.4" x2="221.1" y2="327.9" stroke="#9a9a9a" stroke-width="0.8"/>
<text x="1.5" y="190.4" font-size="17.5" font-weight="bold" fill="#000" text-anchor="start" font-family='"Liberation Sans", sans-serif'>C</text>
<text x="110.2" y="220.7" font-size="17.6" font-weight="bold" fill="#000" text-anchor="start" font-family='"Liberation Sans", sans-serif'>p = 0.004</text>
<text x="26.5" y="251.0" font-size="7.2" font-weight="bold" fill="#000" text-anchor="middle" font-family='"Liberation Sans", sans-serif' transform="rotate(-90 26.5 251)">Fraction with no treatment</text>
<text x="131.1" y="347.3" font-size="6.8" font-weight="bold" fill="#000" text-anchor="middle" font-family='"Liberation Sans", sans-serif'>TTT (years)</text>
<polyline points="100.8,270.8 106.9,270.8 106.9,273.1 111.5,273.1 111.5,277.7 117.7,277.7 117.7,280.8 123.1,280.8 123.1,283.1 130.8,283.1 130.8,286.3 139.5,286.3 139.5,290.6 149.0,290.6 149.0,293.8 225.2,293.8 225.2,293.8" fill="none" stroke="#4b86d2" stroke-width="1" stroke-linecap="butt" stroke-linejoin="miter"/>
<polyline points="102.3,248.8 134.4,248.8 134.4,255.5 144.8,255.5 144.8,260.5 166.4,260.5 166.4,272.6 227.3,272.6 227.3,272.6" fill="none" stroke="#e2506a" stroke-width="1" stroke-linecap="butt" stroke-linejoin="miter"/>
<polyline points="50.8,190.2 51.3,198.8 57.1,198.8 58.0,201.0 59.0,204.0 62.3,207.5 68.1,211.5 72.7,217.3 75.0,223.0 79.6,223.0 84.2,228.8 85.4,230.0 90.0,236.2 93.1,240.8 96.9,243.1 100.0,245.4 102.3,248.8" fill="none" stroke="#e2506a" stroke-width="1.0"/>
<polyline points="50.8,190.2 51.3,198.8 57.1,198.8 58.0,201.0 59.0,204.0 62.3,207.5 68.1,211.5 72.7,217.3 75.0,223.0 79.6,223.0 84.2,228.8 85.4,230.0 90.0,236.2 93.1,240.8 96.9,243.1 100.0,245.4 102.3,248.8" fill="none" stroke="#111" stroke-width="1.8" stroke-linejoin="round" stroke-linecap="butt" stroke-dasharray="1.5 1.9"/>
<polyline points="50.8,190.2 50.2,196.5 51.3,205.8 53.7,210.4 56.0,216.2 57.7,220.8 61.2,223.1 64.6,226.5 67.5,231.2 71.0,234.6 73.1,239.2 76.2,245.4 78.5,253.1 81.5,254.6 86.9,259.2 90.0,263.1 94.6,265.4 100.8,270.8" fill="none" stroke="#111" stroke-width="1.9" stroke-linejoin="round"/>
<path d="M50.8 188.6v3.2M50.7 190.1v3.2M50.5 191.6v3.2M50.4 193.1v3.2M50.2 194.6v3.2M50.3 196.1v3.2M50.5 197.6v3.2M50.7 199.0v3.2M50.9 200.5v3.2M51.0 202.0v3.2M51.2 203.5v3.2M51.7 204.9v3.2M52.4 206.2v3.2M53.1 207.6v3.2M53.7 208.9v3.2M54.3 210.3v3.2M54.8 211.7v3.2M55.4 213.1v3.2M56.0 214.5v3.2M56.5 215.9v3.2M57.0 217.3v3.2M57.5 218.7v3.2M58.5 219.7v3.2M59.8 220.6v3.2M61.0 221.4v3.2M62.1 222.4v3.2M63.2 223.5v3.2M64.2 224.5v3.2M65.1 225.7v3.2M65.9 227.0v3.2M66.7 228.3v3.2M67.5 229.6v3.2M68.5 230.6v3.2M69.6 231.7v3.2M70.7 232.7v3.2M71.4 234.0v3.2M72.1 235.3v3.2M72.7 236.7v3.2M73.3 238.1v3.2M74.0 239.4v3.2M74.7 240.7v3.2M75.3 242.1v3.2M76.0 243.4v3.2M76.5 244.8v3.2M76.9 246.3v3.2M77.4 247.7v3.2M77.8 249.2v3.2M78.2 250.6v3.2M79.0 251.7v3.2M80.3 252.4v3.2M81.7 253.1v3.2M82.8 254.1v3.2M83.9 255.1v3.2M85.1 256.0v3.2M86.2 257.0v3.2M87.3 258.1v3.2M88.2 259.2v3.2M89.1 260.4v3.2M90.1 261.6v3.2M91.5 262.2v3.2M92.8 262.9v3.2M94.1 263.6v3.2M95.3 264.4v3.2M96.5 265.4v3.2M97.6 266.4v3.2M98.7 267.4v3.2M99.9 268.4v3.2" stroke="#111" stroke-width="1.0" fill="none"/>
<polyline points="100.8,270.8 106.9,273.1 111.5,277.7 117.7,280.8 123.1,283.1 130.0,283.8 130.8,286.3" fill="none" stroke="#4b86d2" stroke-width="1.0" stroke-linejoin="round"/>
<polyline points="100.8,270.8 106.9,273.1 111.5,277.7 117.7,280.8 123.1,283.1 130.0,283.8 130.8,286.3" fill="none" stroke="#111" stroke-width="0.6" stroke-linejoin="round"/>
<path d="M100.8 269.4v2.8M102.7 270.1v2.8M104.5 270.8v2.8M106.4 271.5v2.8M107.9 272.7v2.8M109.4 274.2v2.8M110.8 275.6v2.8M112.4 276.7v2.8M114.2 277.6v2.8M116.0 278.5v2.8M117.7 279.4v2.8M119.6 280.2v2.8M121.4 281.0v2.8M123.3 281.7v2.8M125.3 281.9v2.8M127.3 282.1v2.8M129.2 282.3v2.8M130.4 283.6v2.8" stroke="#111" stroke-width="1.0" fill="none"/>
<rect x="103.6" y="246.1" width="2.0" height="1.9" fill="#111"/>
<rect x="105.0" y="246.1" width="2.0" height="1.9" fill="#111"/>
<rect x="107.0" y="246.1" width="2.0" height="1.9" fill="#111"/>
<rect x="109.0" y="246.1" width="2.0" height="1.9" fill="#111"/>
<rect x="111.0" y="246.1" width="2.0" height="1.9" fill="#111"/>
<rect x="113.0" y="246.1" width="2.0" height="1.9" fill="#111"/>
<rect x="115.0" y="246.1" width="2.0" height="1.9" fill="#111"/>
<rect x="126.7" y="246.1" width="2.0" height="1.9" fill="#111"/>
<rect x="144.5" y="257.8" width="2.0" height="1.9" fill="#111"/>
<rect x="147.0" y="257.8" width="2.0" height="1.9" fill="#111"/>
<rect x="149.0" y="257.8" width="2.0" height="1.9" fill="#111"/>
<rect x="151.0" y="257.8" width="2.0" height="1.9" fill="#111"/>
<rect x="159.5" y="257.8" width="2.0" height="1.9" fill="#111"/>
<rect x="178.0" y="269.9" width="2.0" height="1.9" fill="#111"/>
<rect x="187.5" y="269.9" width="2.0" height="1.9" fill="#111"/>
<rect x="210.0" y="269.9" width="2.0" height="1.9" fill="#111"/>
<rect x="226.3" y="269.9" width="2.0" height="1.9" fill="#111"/>
<rect x="130.0" y="284.1" width="2.0" height="1.9" fill="#111"/>
<rect x="133.0" y="284.1" width="2.0" height="1.9" fill="#111"/>
<rect x="139.0" y="288.1" width="2.0" height="1.9" fill="#111"/>
<rect x="152.0" y="291.1" width="2.0" height="1.9" fill="#111"/>
<rect x="163.0" y="291.1" width="2.0" height="1.9" fill="#111"/>
<rect x="165.0" y="291.1" width="2.0" height="1.9" fill="#111"/>
<rect x="172.0" y="291.1" width="2.0" height="1.9" fill="#111"/>
<rect x="179.0" y="291.1" width="2.0" height="1.9" fill="#111"/>
<rect x="183.0" y="291.1" width="2.0" height="1.9" fill="#111"/>
<rect x="202.0" y="291.1" width="2.0" height="1.9" fill="#111"/>
<rect x="224.0" y="291.1" width="2.0" height="1.9" fill="#111"/>
<rect x="140.5" y="234.2" width="47.0" height="11.8" fill="#fff" stroke="#8a8a8a" stroke-width="1"/>
<text x="164.0" y="243.1" font-size="7.1" font-weight="normal" fill="#333" text-anchor="middle" font-family='"Liberation Sans", sans-serif'>Low total SET</text>
<line x1="140.6" y1="246.2" x2="135.3" y2="254.6" stroke="#8a8a8a" stroke-width="0.8"/>
<rect x="73.5" y="294.8" width="48.5" height="11.7" fill="#fff" stroke="#8a8a8a" stroke-width="1"/>
<text x="97.8" y="303.5" font-size="6.9" font-weight="normal" fill="#333" text-anchor="middle" font-family='"Liberation Sans", sans-serif'>High total SET</text>
<line x1="122.3" y1="296.0" x2="130.0" y2="288.5" stroke="#8a8a8a" stroke-width="0.8"/>
<line x1="316.9" y1="187.5" x2="316.9" y2="326.5" stroke="#9a9a9a" stroke-width="1"/>
<line x1="316.9" y1="326.5" x2="510.2" y2="326.5" stroke="#9a9a9a" stroke-width="1"/>
<line x1="314.4" y1="319.7" x2="316.9" y2="319.7" stroke="#9a9a9a" stroke-width="1"/>
<text x="313.4" y="322.2" font-size="7" font-weight="normal" fill="#666" text-anchor="end" font-family='"Liberation Sans", sans-serif'>0</text>
<line x1="314.4" y1="306.9" x2="316.9" y2="306.9" stroke="#9a9a9a" stroke-width="1"/>
<text x="313.4" y="309.4" font-size="7" font-weight="normal" fill="#666" text-anchor="end" font-family='"Liberation Sans", sans-serif'>0.1</text>
<line x1="314.4" y1="294.1" x2="316.9" y2="294.1" stroke="#9a9a9a" stroke-width="1"/>
<text x="313.4" y="296.6" font-size="7" font-weight="normal" fill="#666" text-anchor="end" font-family='"Liberation Sans", sans-serif'>0.2</text>
<line x1="314.4" y1="281.2" x2="316.9" y2="281.2" stroke="#9a9a9a" stroke-width="1"/>
<text x="313.4" y="283.8" font-size="7" font-weight="normal" fill="#666" text-anchor="end" font-family='"Liberation Sans", sans-serif'>0.3</text>
<line x1="314.4" y1="268.4" x2="316.9" y2="268.4" stroke="#9a9a9a" stroke-width="1"/>
<text x="313.4" y="270.9" font-size="7" font-weight="normal" fill="#666" text-anchor="end" font-family='"Liberation Sans", sans-serif'>0.4</text>
<line x1="314.4" y1="255.6" x2="316.9" y2="255.6" stroke="#9a9a9a" stroke-width="1"/>
<text x="313.4" y="258.1" font-size="7" font-weight="normal" fill="#666" text-anchor="end" font-family='"Liberation Sans", sans-serif'>0.5</text>
<line x1="314.4" y1="242.8" x2="316.9" y2="242.8" stroke="#9a9a9a" stroke-width="1"/>
<text x="313.4" y="245.3" font-size="7" font-weight="normal" fill="#666" text-anchor="end" font-family='"Liberation Sans", sans-serif'>0.6</text>
<line x1="314.4" y1="230.0" x2="316.9" y2="230.0" stroke="#9a9a9a" stroke-width="1"/>
<text x="313.4" y="232.5" font-size="7" font-weight="normal" fill="#666" text-anchor="end" font-family='"Liberation Sans", sans-serif'>0.7</text>
<line x1="314.4" y1="217.1" x2="316.9" y2="217.1" stroke="#9a9a9a" stroke-width="1"/>
<text x="313.4" y="219.7" font-size="7" font-weight="normal" fill="#666" text-anchor="end" font-family='"Liberation Sans", sans-serif'>0.8</text>
<line x1="314.4" y1="204.3" x2="316.9" y2="204.3" stroke="#9a9a9a" stroke-width="1"/>
<text x="313.4" y="206.8" font-size="7" font-weight="normal" fill="#666" text-anchor="end" font-family='"Liberation Sans", sans-serif'>0.9</text>
<line x1="314.4" y1="191.5" x2="316.9" y2="191.5" stroke="#9a9a9a" stroke-width="1"/>
<text x="313.4" y="194.0" font-size="7" font-weight="normal" fill="#666" text-anchor="end" font-family='"Liberation Sans", sans-serif'>1</text>
<line x1="322.3" y1="326.5" x2="322.3" y2="329.0" stroke="#9a9a9a" stroke-width="1"/>
<text x="322.3" y="336.0" font-size="7" font-weight="normal" fill="#555" text-anchor="middle" font-family='"Liberation Sans", sans-serif'>0</text>
<line x1="359.8" y1="326.5" x2="359.8" y2="329.0" stroke="#9a9a9a" stroke-width="1"/>
<text x="359.8" y="336.0" font-size="7" font-weight="normal" fill="#555" text-anchor="middle" font-family='"Liberation Sans", sans-serif'>5</text>
<line x1="397.3" y1="326.5" x2="397.3" y2="329.0" stroke="#9a9a9a" stroke-width="1"/>
<text x="397.3" y="336.0" font-size="7" font-weight="normal" fill="#555" text-anchor="middle" font-family='"Liberation Sans", sans-serif'>10</text>
<line x1="434.8" y1="326.5" x2="434.8" y2="329.0" stroke="#9a9a9a" stroke-width="1"/>
<text x="434.8" y="336.0" font-size="7" font-weight="normal" fill="#555" text-anchor="middle" font-family='"Liberation Sans", sans-serif'>15</text>
<line x1="472.3" y1="326.5" x2="472.3" y2="329.0" stroke="#9a9a9a" stroke-width="1"/>
<text x="472.3" y="336.0" font-size="7" font-weight="normal" fill="#555" text-anchor="middle" font-family='"Liberation Sans", sans-serif'>20</text>
<line x1="509.8" y1="326.5" x2="509.8" y2="329.0" stroke="#9a9a9a" stroke-width="1"/>
<text x="509.8" y="336.0" font-size="7" font-weight="normal" fill="#555" text-anchor="middle" font-family='"Liberation Sans", sans-serif'>25</text>
<line x1="329.8" y1="326.5" x2="329.8" y2="328.0" stroke="#9a9a9a" stroke-width="0.8"/>
<line x1="337.3" y1="326.5" x2="337.3" y2="328.0" stroke="#9a9a9a" stroke-width="0.8"/>
<line x1="344.8" y1="326.5" x2="344.8" y2="328.0" stroke="#9a9a9a" stroke-width="0.8"/>
<line x1="352.3" y1="326.5" x2="352.3" y2="328.0" stroke="#9a9a9a" stroke-width="0.8"/>
<line x1="367.3" y1="326.5" x2="367.3" y2="328.0" stroke="#9a9a9a" stroke-width="0.8"/>
<line x1="374.8" y1="326.5" x2="374.8" y2="328.0" stroke="#9a9a9a" stroke-width="0.8"/>
<line x1="382.3" y1="326.5" x2="382.3" y2="328.0" stroke="#9a9a9a" stroke-width="0.8"/>
<line x1="389.8" y1="326.5" x2="389.8" y2="328.0" stroke="#9a9a9a" stroke-width="0.8"/>
<line x1="404.8" y1="326.5" x2="404.8" y2="328.0" stroke="#9a9a9a" stroke-width="0.8"/>
<line x1="412.3" y1="326.5" x2="412.3" y2="328.0" stroke="#9a9a9a" stroke-width="0.8"/>
<line x1="419.8" y1="326.5" x2="419.8" y2="328.0" stroke="#9a9a9a" stroke-width="0.8"/>
<line x1="427.3" y1="326.5" x2="427.3" y2="328.0" stroke="#9a9a9a" stroke-width="0.8"/>
<line x1="442.3" y1="326.5" x2="442.3" y2="328.0" stroke="#9a9a9a" stroke-width="0.8"/>
<line x1="449.8" y1="326.5" x2="449.8" y2="328.0" stroke="#9a9a9a" stroke-width="0.8"/>
<line x1="457.3" y1="326.5" x2="457.3" y2="328.0" stroke="#9a9a9a" stroke-width="0.8"/>
<line x1="464.8" y1="326.5" x2="464.8" y2="328.0" stroke="#9a9a9a" stroke-width="0.8"/>
<line x1="479.8" y1="326.5" x2="479.8" y2="328.0" stroke="#9a9a9a" stroke-width="0.8"/>
<line x1="487.3" y1="326.5" x2="487.3" y2="328.0" stroke="#9a9a9a" stroke-width="0.8"/>
<line x1="494.8" y1="326.5" x2="494.8" y2="328.0" stroke="#9a9a9a" stroke-width="0.8"/>
<line x1="502.3" y1="326.5" x2="502.3" y2="328.0" stroke="#9a9a9a" stroke-width="0.8"/>
<line x1="510.2" y1="187.7" x2="510.2" y2="326.5" stroke="#aaa" stroke-width="1"/>
<text x="271.6" y="190.0" font-size="17.5" font-weight="bold" fill="#000" text-anchor="start" font-family='"Liberation Sans", sans-serif'>D</text>
<text x="381.2" y="220.9" font-size="17.6" font-weight="bold" fill="#000" text-anchor="start" font-family='"Liberation Sans", sans-serif'>p = 0.0002</text>
<text x="300.2" y="257.7" font-size="7.75" font-weight="bold" fill="#000" text-anchor="middle" font-family='"Liberation Sans", sans-serif' transform="rotate(-90 300.2 257.7)">Fraction with no treatment</text>
<text x="412.0" y="353.6" font-size="8.2" font-weight="bold" fill="#000" text-anchor="middle" font-family='"Liberation Sans", sans-serif'>TTT (years)</text>
<polyline points="362.3,271.2 366.9,271.2 366.9,274.2 372.3,274.2 372.3,275.0 376.9,275.0 376.9,279.6 384.6,279.6 384.6,281.9 392.3,281.9 392.3,285.0 396.2,285.0 396.2,287.3 403.6,287.3 403.6,290.4 408.0,290.4 408.0,293.3 421.3,293.3 421.3,296.9 463.3,296.9 463.3,296.9" fill="none" stroke="#4b86d2" stroke-width="1" stroke-linecap="butt" stroke-linejoin="miter"/>
<polyline points="387.7,253.7 411.2,253.7 411.2,258.0 415.2,258.0 415.2,261.3 420.0,261.3 420.0,264.5 427.3,264.5 427.3,266.9 444.8,266.9 444.8,274.8 510.2,274.8 510.2,274.8" fill="none" stroke="#e2506a" stroke-width="1" stroke-linecap="butt" stroke-linejoin="miter"/>
<polyline points="322.6,191.3 323.2,195.4 326.7,196.5 328.4,202.3 330.7,208.1 334.2,211.5 338.8,213.8 343.4,217.3 348.0,221.9 352.6,227.7 355.4,231.2 363.1,236.5 370.8,244.2 376.9,247.3 383.1,248.1 387.7,253.7" fill="none" stroke="#e2506a" stroke-width="1.0"/>
<polyline points="322.6,191.3 323.2,195.4 326.7,196.5 328.4,202.3 330.7,208.1 334.2,211.5 338.8,213.8 343.4,217.3 348.0,221.9 352.6,227.7 355.4,231.2 363.1,236.5 370.8,244.2 376.9,247.3 383.1,248.1 387.7,253.7" fill="none" stroke="#111" stroke-width="1.9" stroke-linejoin="round" stroke-linecap="butt" stroke-dasharray="1.7 1.5"/>
<polyline points="322.6,191.3 323.2,202.3 324.3,211.5 327.2,217.3 330.7,220.8 334.2,225.4 338.2,231.2 341.7,235.8 344.0,239.2 345.7,245.0 347.7,249.6 351.5,259.6 355.4,261.2 359.2,265.0 362.3,271.2" fill="none" stroke="#111" stroke-width="1.9" stroke-linejoin="round"/>
<path d="M322.6 189.7v3.2M322.7 191.2v3.2M322.8 192.7v3.2M322.8 194.2v3.2M322.9 195.7v3.2M323.0 197.2v3.2M323.1 198.7v3.2M323.2 200.2v3.2M323.3 201.7v3.2M323.5 203.2v3.2M323.7 204.7v3.2M323.9 206.1v3.2M324.0 207.6v3.2M324.2 209.1v3.2M324.6 210.5v3.2M325.3 211.9v3.2M326.0 213.2v3.2M326.6 214.6v3.2M327.4 215.9v3.2M328.4 216.9v3.2M329.5 218.0v3.2M330.5 219.0v3.2M331.5 220.2v3.2M332.4 221.4v3.2M333.3 222.6v3.2M334.2 223.8v3.2M335.1 225.0v3.2M335.9 226.3v3.2M336.8 227.5v3.2M337.6 228.7v3.2M338.5 230.0v3.2M339.4 231.2v3.2M340.3 232.4v3.2M341.2 233.5v3.2M342.1 234.8v3.2M342.9 236.0v3.2M343.8 237.2v3.2M344.3 238.6v3.2M344.7 240.1v3.2M345.1 241.5v3.2M345.6 242.9v3.2M346.1 244.3v3.2M346.7 245.7v3.2M347.3 247.1v3.2M347.9 248.5v3.2M348.4 249.9v3.2M348.9 251.3v3.2M349.5 252.7v3.2M350.0 254.1v3.2M350.5 255.5v3.2M351.1 256.9v3.2M351.8 258.1v3.2M353.2 258.7v3.2M354.6 259.3v3.2M355.8 260.0v3.2M356.9 261.1v3.2M357.9 262.1v3.2M359.0 263.2v3.2M359.7 264.5v3.2M360.4 265.8v3.2M361.1 267.2v3.2M361.8 268.5v3.2" stroke="#111" stroke-width="1.0" fill="none"/>
<polyline points="362.3,271.2 366.9,274.2 372.3,275.0 376.9,279.6 384.6,281.9 392.3,285.0 396.2,287.3" fill="none" stroke="#4b86d2" stroke-width="1.0" stroke-linejoin="round"/>
<polyline points="362.3,271.2 366.9,274.2 372.3,275.0 376.9,279.6 384.6,281.9 392.3,285.0 396.2,287.3" fill="none" stroke="#111" stroke-width="0.6" stroke-linejoin="round"/>
<path d="M362.3 269.8v2.8M364.0 270.9v2.8M365.7 272.0v2.8M367.4 272.9v2.8M369.4 273.2v2.8M371.4 273.5v2.8M373.0 274.3v2.8M374.5 275.8v2.8M375.9 277.2v2.8M377.4 278.4v2.8M379.3 278.9v2.8M381.3 279.5v2.8M383.2 280.1v2.8M385.1 280.7v2.8M386.9 281.4v2.8M388.8 282.2v2.8M390.6 282.9v2.8M392.5 283.7v2.8M394.2 284.7v2.8M395.9 285.7v2.8" stroke="#111" stroke-width="1.0" fill="none"/>
<rect x="392.8" y="251.1" width="2.0" height="1.9" fill="#111"/>
<rect x="405.0" y="251.1" width="2.0" height="1.9" fill="#111"/>
<rect x="409.0" y="251.1" width="2.0" height="1.9" fill="#111"/>
<rect x="411.0" y="255.2" width="2.0" height="1.9" fill="#111"/>
<rect x="417.0" y="258.6" width="2.0" height="1.9" fill="#111"/>
<rect x="426.0" y="262.1" width="2.0" height="1.9" fill="#111"/>
<rect x="429.0" y="264.2" width="2.0" height="1.9" fill="#111"/>
<rect x="431.0" y="264.2" width="2.0" height="1.9" fill="#111"/>
<rect x="442.0" y="264.2" width="2.0" height="1.9" fill="#111"/>
<rect x="457.0" y="272.1" width="2.0" height="1.9" fill="#111"/>
<rect x="467.0" y="272.1" width="2.0" height="1.9" fill="#111"/>
<rect x="482.0" y="272.1" width="2.0" height="1.9" fill="#111"/>
<rect x="491.0" y="272.1" width="2.0" height="1.9" fill="#111"/>
<rect x="506.0" y="272.1" width="2.0" height="1.9" fill="#111"/>
<rect x="508.0" y="272.1" width="2.0" height="1.9" fill="#111"/>
<rect x="392.0" y="283.1" width="2.0" height="1.9" fill="#111"/>
<rect x="394.0" y="284.1" width="2.0" height="1.9" fill="#111"/>
<rect x="396.0" y="284.1" width="2.0" height="1.9" fill="#111"/>
<rect x="402.0" y="285.1" width="2.0" height="1.9" fill="#111"/>
<rect x="404.0" y="288.1" width="2.0" height="1.9" fill="#111"/>
<rect x="423.0" y="294.2" width="2.0" height="1.9" fill="#111"/>
<rect x="427.0" y="294.2" width="2.0" height="1.9" fill="#111"/>
<rect x="437.0" y="294.2" width="2.0" height="1.9" fill="#111"/>
<rect x="448.0" y="294.2" width="2.0" height="1.9" fill="#111"/>
<rect x="457.0" y="294.2" width="2.0" height="1.9" fill="#111"/>
<rect x="462.0" y="294.2" width="2.0" height="1.9" fill="#111"/>
<rect x="392.8" y="228.8" width="73.4" height="12.4" fill="#fff" stroke="#8a8a8a" stroke-width="1"/>
<text x="429.5" y="237.0" font-size="8.5" font-weight="normal" fill="#333" text-anchor="middle" font-family='"Liberation Sans", sans-serif'>Low <tspan font-family='"Liberation Serif", serif' fill="#555">α</tspan><tspan fill="#555">/</tspan><tspan font-family='"Liberation Serif", serif' fill="#555">β</tspan> SET ratio</text>
<line x1="392.9" y1="241.2" x2="388.0" y2="247.0" stroke="#8a8a8a" stroke-width="0.8"/>
<rect x="356.5" y="303.8" width="75.5" height="12.6" fill="#fff" stroke="#8a8a8a" stroke-width="1"/>
<text x="394.2" y="312.4" font-size="8.5" font-weight="normal" fill="#333" text-anchor="middle" font-family='"Liberation Sans", sans-serif'>High <tspan font-family='"Liberation Serif", serif' fill="#555">α</tspan><tspan fill="#555">/</tspan><tspan font-family='"Liberation Serif", serif' fill="#555">β</tspan> SET ratio</text>
<line x1="428.9" y1="303.8" x2="439.4" y2="298.0" stroke="#8a8a8a" stroke-width="0.8"/>
<line x1="42.3" y1="372.0" x2="42.3" y2="512.0" stroke="#9a9a9a" stroke-width="1"/>
<line x1="42.3" y1="512.0" x2="225.5" y2="512.0" stroke="#9a9a9a" stroke-width="1"/>
<line x1="39.8" y1="505.8" x2="42.3" y2="505.8" stroke="#9a9a9a" stroke-width="1"/>
<text x="38.3" y="508.7" font-size="8" font-weight="normal" fill="#444" text-anchor="end" font-family='"Liberation Sans", sans-serif'>0</text>
<line x1="39.8" y1="492.9" x2="42.3" y2="492.9" stroke="#9a9a9a" stroke-width="1"/>
<text x="38.3" y="495.8" font-size="8" font-weight="normal" fill="#444" text-anchor="end" font-family='"Liberation Sans", sans-serif'>0.1</text>
<line x1="39.8" y1="480.0" x2="42.3" y2="480.0" stroke="#9a9a9a" stroke-width="1"/>
<text x="38.3" y="482.9" font-size="8" font-weight="normal" fill="#444" text-anchor="end" font-family='"Liberation Sans", sans-serif'>0.2</text>
<line x1="39.8" y1="467.1" x2="42.3" y2="467.1" stroke="#9a9a9a" stroke-width="1"/>
<text x="38.3" y="470.0" font-size="8" font-weight="normal" fill="#444" text-anchor="end" font-family='"Liberation Sans", sans-serif'>0.3</text>
<line x1="39.8" y1="454.2" x2="42.3" y2="454.2" stroke="#9a9a9a" stroke-width="1"/>
<text x="38.3" y="457.1" font-size="8" font-weight="normal" fill="#444" text-anchor="end" font-family='"Liberation Sans", sans-serif'>0.4</text>
<line x1="39.8" y1="441.3" x2="42.3" y2="441.3" stroke="#9a9a9a" stroke-width="1"/>
<text x="38.3" y="444.2" font-size="8" font-weight="normal" fill="#444" text-anchor="end" font-family='"Liberation Sans", sans-serif'>0.5</text>
<line x1="39.8" y1="428.4" x2="42.3" y2="428.4" stroke="#9a9a9a" stroke-width="1"/>
<text x="38.3" y="431.3" font-size="8" font-weight="normal" fill="#444" text-anchor="end" font-family='"Liberation Sans", sans-serif'>0.6</text>
<line x1="39.8" y1="415.5" x2="42.3" y2="415.5" stroke="#9a9a9a" stroke-width="1"/>
<text x="38.3" y="418.4" font-size="8" font-weight="normal" fill="#444" text-anchor="end" font-family='"Liberation Sans", sans-serif'>0.7</text>
<line x1="39.8" y1="402.6" x2="42.3" y2="402.6" stroke="#9a9a9a" stroke-width="1"/>
<text x="38.3" y="405.5" font-size="8" font-weight="normal" fill="#444" text-anchor="end" font-family='"Liberation Sans", sans-serif'>0.8</text>
<line x1="39.8" y1="389.7" x2="42.3" y2="389.7" stroke="#9a9a9a" stroke-width="1"/>
<text x="38.3" y="392.6" font-size="8" font-weight="normal" fill="#444" text-anchor="end" font-family='"Liberation Sans", sans-serif'>0.9</text>
<line x1="39.8" y1="376.8" x2="42.3" y2="376.8" stroke="#9a9a9a" stroke-width="1"/>
<text x="38.3" y="379.7" font-size="8" font-weight="normal" fill="#444" text-anchor="end" font-family='"Liberation Sans", sans-serif'>1</text>
<line x1="47.4" y1="512.0" x2="47.4" y2="514.5" stroke="#9a9a9a" stroke-width="1"/>
<text x="47.4" y="522.0" font-size="7" font-weight="normal" fill="#555" text-anchor="middle" font-family='"Liberation Sans", sans-serif'>0</text>
<line x1="77.1" y1="512.0" x2="77.1" y2="514.5" stroke="#9a9a9a" stroke-width="1"/>
<text x="77.1" y="522.0" font-size="7" font-weight="normal" fill="#555" text-anchor="middle" font-family='"Liberation Sans", sans-serif'>5</text>
<line x1="106.8" y1="512.0" x2="106.8" y2="514.5" stroke="#9a9a9a" stroke-width="1"/>
<text x="106.8" y="522.0" font-size="7" font-weight="normal" fill="#555" text-anchor="middle" font-family='"Liberation Sans", sans-serif'>10</text>
<line x1="136.5" y1="512.0" x2="136.5" y2="514.5" stroke="#9a9a9a" stroke-width="1"/>
<text x="136.5" y="522.0" font-size="7" font-weight="normal" fill="#555" text-anchor="middle" font-family='"Liberation Sans", sans-serif'>15</text>
<line x1="166.2" y1="512.0" x2="166.2" y2="514.5" stroke="#9a9a9a" stroke-width="1"/>
<text x="166.2" y="522.0" font-size="7" font-weight="normal" fill="#555" text-anchor="middle" font-family='"Liberation Sans", sans-serif'>20</text>
<line x1="195.9" y1="512.0" x2="195.9" y2="514.5" stroke="#9a9a9a" stroke-width="1"/>
<text x="195.9" y="522.0" font-size="7" font-weight="normal" fill="#555" text-anchor="middle" font-family='"Liberation Sans", sans-serif'>25</text>
<line x1="225.6" y1="512.0" x2="225.6" y2="514.5" stroke="#9a9a9a" stroke-width="1"/>
<text x="225.6" y="522.0" font-size="7" font-weight="normal" fill="#555" text-anchor="middle" font-family='"Liberation Sans", sans-serif'>30</text>
<line x1="53.3" y1="512.0" x2="53.3" y2="513.5" stroke="#9a9a9a" stroke-width="0.8"/>
<line x1="59.3" y1="512.0" x2="59.3" y2="513.5" stroke="#9a9a9a" stroke-width="0.8"/>
<line x1="65.2" y1="512.0" x2="65.2" y2="513.5" stroke="#9a9a9a" stroke-width="0.8"/>
<line x1="71.2" y1="512.0" x2="71.2" y2="513.5" stroke="#9a9a9a" stroke-width="0.8"/>
<line x1="83.0" y1="512.0" x2="83.0" y2="513.5" stroke="#9a9a9a" stroke-width="0.8"/>
<line x1="89.0" y1="512.0" x2="89.0" y2="513.5" stroke="#9a9a9a" stroke-width="0.8"/>
<line x1="94.9" y1="512.0" x2="94.9" y2="513.5" stroke="#9a9a9a" stroke-width="0.8"/>
<line x1="100.9" y1="512.0" x2="100.9" y2="513.5" stroke="#9a9a9a" stroke-width="0.8"/>
<line x1="112.7" y1="512.0" x2="112.7" y2="513.5" stroke="#9a9a9a" stroke-width="0.8"/>
<line x1="118.7" y1="512.0" x2="118.7" y2="513.5" stroke="#9a9a9a" stroke-width="0.8"/>
<line x1="124.6" y1="512.0" x2="124.6" y2="513.5" stroke="#9a9a9a" stroke-width="0.8"/>
<line x1="130.6" y1="512.0" x2="130.6" y2="513.5" stroke="#9a9a9a" stroke-width="0.8"/>
<line x1="142.4" y1="512.0" x2="142.4" y2="513.5" stroke="#9a9a9a" stroke-width="0.8"/>
<line x1="148.4" y1="512.0" x2="148.4" y2="513.5" stroke="#9a9a9a" stroke-width="0.8"/>
<line x1="154.3" y1="512.0" x2="154.3" y2="513.5" stroke="#9a9a9a" stroke-width="0.8"/>
<line x1="160.3" y1="512.0" x2="160.3" y2="513.5" stroke="#9a9a9a" stroke-width="0.8"/>
<line x1="172.1" y1="512.0" x2="172.1" y2="513.5" stroke="#9a9a9a" stroke-width="0.8"/>
<line x1="178.1" y1="512.0" x2="178.1" y2="513.5" stroke="#9a9a9a" stroke-width="0.8"/>
<line x1="184.0" y1="512.0" x2="184.0" y2="513.5" stroke="#9a9a9a" stroke-width="0.8"/>
<line x1="190.0" y1="512.0" x2="190.0" y2="513.5" stroke="#9a9a9a" stroke-width="0.8"/>
<line x1="201.8" y1="512.0" x2="201.8" y2="513.5" stroke="#9a9a9a" stroke-width="0.8"/>
<line x1="207.8" y1="512.0" x2="207.8" y2="513.5" stroke="#9a9a9a" stroke-width="0.8"/>
<line x1="213.7" y1="512.0" x2="213.7" y2="513.5" stroke="#9a9a9a" stroke-width="0.8"/>
<line x1="219.7" y1="512.0" x2="219.7" y2="513.5" stroke="#9a9a9a" stroke-width="0.8"/>
<text x="1.8" y="374.0" font-size="17.5" font-weight="bold" fill="#000" text-anchor="start" font-family='"Liberation Sans", sans-serif'>E</text>
<text x="130.2" y="386.3" font-size="17.6" font-weight="bold" fill="#000" text-anchor="start" font-family='"Liberation Sans", sans-serif'>p = 0.229</text>
<text x="17.6" y="444.0" font-size="8.5" font-weight="bold" fill="#000" text-anchor="middle" font-family='"Liberation Sans", sans-serif' transform="rotate(-90 17.6 444)">Fraction surviving</text>
<text x="147.3" y="541.7" font-size="8" font-weight="bold" fill="#000" text-anchor="middle" font-family='"Liberation Sans", sans-serif'>Survival (years)</text>
<polyline points="108.5,411.5 115.4,411.5 115.4,416.9 118.5,416.9 118.5,423.1 120.8,423.1 120.8,432.3 124.6,432.3 124.6,441.8 181.4,441.8 181.4,473.7 198.8,473.7 198.8,473.7" fill="none" stroke="#4b86d2" stroke-width="1" stroke-linecap="butt" stroke-linejoin="miter"/>
<polyline points="146.2,435.4 146.9,435.4 146.9,441.5 150.8,441.5 150.8,441.5 153.8,441.5 153.8,444.6 156.9,444.6 156.9,447.7 159.2,447.7 159.2,452.4 171.3,452.4 171.3,461.2 215.7,461.2 215.7,483.4 221.0,483.4 221.0,483.4" fill="none" stroke="#e2506a" stroke-width="1" stroke-linecap="butt" stroke-linejoin="miter"/>
<polyline points="49.6,376.5 57.3,375.9 65.0,377.5 72.7,381.3 78.5,384.2 85.2,384.2 86.2,390.0 91.9,393.8 97.7,397.7 102.5,398.7 103.5,401.5 106.3,406.3 108.5,411.5" fill="none" stroke="#4b86d2" stroke-width="1.2"/>
<polyline points="49.6,376.5 59.2,378.5 65.0,383.3 70.8,386.2 74.6,390.0 80.4,393.8 84.2,395.8 90.0,396.7 95.8,398.7 99.6,399.6 103.5,403.5 106.3,408.3 109.2,415.0 111.2,419.5 117.3,420.0 121.9,420.8 124.6,423.1 129.2,426.9 133.8,429.2 138.5,431.5 141.5,434.6 146.2,435.4" fill="none" stroke="#e2506a" stroke-width="1.2"/>
<polyline points="49.6,376.5 57.3,375.9 65.0,377.5 72.7,381.3 78.5,384.2 85.2,384.2 86.2,390.0 91.9,393.8 97.7,397.7 102.5,398.7 103.5,401.5 106.3,406.3 108.5,411.5" fill="none" stroke="#111" stroke-width="2.0" stroke-linejoin="round" stroke-linecap="butt" stroke-dasharray="1.8 1.3"/>
<polyline points="49.6,376.5 59.2,378.5 65.0,383.3 70.8,386.2 74.6,390.0 80.4,393.8 84.2,395.8 90.0,396.7 95.8,398.7 99.6,399.6 103.5,403.5 106.3,408.3 109.2,415.0 111.2,419.5" fill="none" stroke="#111" stroke-width="2.1" stroke-linejoin="round" stroke-linecap="butt" stroke-dasharray="2.2 0.9"/>
<polyline points="111.2,419.5 117.3,420.0 121.9,420.8 124.6,423.1 129.2,426.9 133.8,429.2 138.5,431.5 141.5,434.6 146.2,435.4" fill="none" stroke="#111" stroke-width="1.9" stroke-linejoin="round" stroke-linecap="butt" stroke-dasharray="1.7 1.4"/>
<rect x="101.0" y="406.1" width="2.0" height="1.9" fill="#111"/>
<rect x="112.5" y="410.1" width="2.0" height="1.9" fill="#111"/>
<rect x="117.5" y="423.1" width="2.0" height="1.9" fill="#111"/>
<rect x="122.0" y="430.1" width="2.0" height="1.9" fill="#111"/>
<rect x="139.6" y="439.2" width="2.0" height="1.9" fill="#111"/>
<rect x="169.0" y="439.2" width="2.0" height="1.9" fill="#111"/>
<rect x="175.5" y="439.2" width="2.0" height="1.9" fill="#111"/>
<rect x="197.8" y="471.1" width="2.0" height="1.9" fill="#111"/>
<rect x="140.0" y="431.1" width="2.0" height="1.9" fill="#111"/>
<rect x="145.5" y="436.1" width="2.0" height="1.9" fill="#111"/>
<rect x="147.0" y="440.1" width="2.0" height="1.9" fill="#111"/>
<rect x="151.0" y="441.1" width="2.0" height="1.9" fill="#111"/>
<rect x="154.0" y="445.1" width="2.0" height="1.9" fill="#111"/>
<rect x="161.0" y="449.8" width="2.0" height="1.9" fill="#111"/>
<rect x="163.0" y="449.8" width="2.0" height="1.9" fill="#111"/>
<rect x="165.0" y="449.8" width="2.0" height="1.9" fill="#111"/>
<rect x="169.0" y="449.8" width="2.0" height="1.9" fill="#111"/>
<rect x="182.0" y="458.4" width="2.0" height="1.9" fill="#111"/>
<rect x="192.5" y="458.4" width="2.0" height="1.9" fill="#111"/>
<rect x="211.0" y="458.4" width="2.0" height="1.9" fill="#111"/>
<rect x="220.0" y="480.6" width="2.0" height="1.9" fill="#111"/>
<rect x="136.5" y="405.5" width="47.0" height="13.5" fill="#fff" stroke="#8a8a8a" stroke-width="1"/>
<text x="160.0" y="415.1" font-size="8.2" font-weight="normal" fill="#333" text-anchor="middle" font-family='"Liberation Sans", sans-serif'>Low SET-<tspan font-family='"Liberation Serif", serif'>β</tspan></text>
<line x1="136.8" y1="418.7" x2="131.0" y2="423.6" stroke="#8a8a8a" stroke-width="0.8"/>
<rect x="120.5" y="481.1" width="49.2" height="13.8" fill="#fff" stroke="#8a8a8a" stroke-width="1"/>
<text x="145.1" y="490.8" font-size="8.2" font-weight="normal" fill="#333" text-anchor="middle" font-family='"Liberation Sans", sans-serif'>High SET-<tspan font-family='"Liberation Serif", serif'>β</tspan></text>
<line x1="169.7" y1="481.5" x2="177.7" y2="474.6" stroke="#8a8a8a" stroke-width="0.8"/>
<line x1="317.4" y1="374.6" x2="317.4" y2="511.8" stroke="#9a9a9a" stroke-width="1"/>
<line x1="317.4" y1="511.8" x2="510.5" y2="511.8" stroke="#9a9a9a" stroke-width="1"/>
<line x1="314.9" y1="506.5" x2="317.4" y2="506.5" stroke="#9a9a9a" stroke-width="1"/>
<text x="313.4" y="509.1" font-size="7.3" font-weight="normal" fill="#444" text-anchor="end" font-family='"Liberation Sans", sans-serif'>0</text>
<line x1="314.9" y1="493.8" x2="317.4" y2="493.8" stroke="#9a9a9a" stroke-width="1"/>
<text x="313.4" y="496.4" font-size="7.3" font-weight="normal" fill="#444" text-anchor="end" font-family='"Liberation Sans", sans-serif'>0.1</text>
<line x1="314.9" y1="481.1" x2="317.4" y2="481.1" stroke="#9a9a9a" stroke-width="1"/>
<text x="313.4" y="483.8" font-size="7.3" font-weight="normal" fill="#444" text-anchor="end" font-family='"Liberation Sans", sans-serif'>0.2</text>
<line x1="314.9" y1="468.5" x2="317.4" y2="468.5" stroke="#9a9a9a" stroke-width="1"/>
<text x="313.4" y="471.1" font-size="7.3" font-weight="normal" fill="#444" text-anchor="end" font-family='"Liberation Sans", sans-serif'>0.3</text>
<line x1="314.9" y1="455.8" x2="317.4" y2="455.8" stroke="#9a9a9a" stroke-width="1"/>
<text x="313.4" y="458.4" font-size="7.3" font-weight="normal" fill="#444" text-anchor="end" font-family='"Liberation Sans", sans-serif'>0.4</text>
<line x1="314.9" y1="443.1" x2="317.4" y2="443.1" stroke="#9a9a9a" stroke-width="1"/>
<text x="313.4" y="445.7" font-size="7.3" font-weight="normal" fill="#444" text-anchor="end" font-family='"Liberation Sans", sans-serif'>0.5</text>
<line x1="314.9" y1="430.4" x2="317.4" y2="430.4" stroke="#9a9a9a" stroke-width="1"/>
<text x="313.4" y="433.0" font-size="7.3" font-weight="normal" fill="#444" text-anchor="end" font-family='"Liberation Sans", sans-serif'>0.6</text>
<line x1="314.9" y1="417.7" x2="317.4" y2="417.7" stroke="#9a9a9a" stroke-width="1"/>
<text x="313.4" y="420.4" font-size="7.3" font-weight="normal" fill="#444" text-anchor="end" font-family='"Liberation Sans", sans-serif'>0.7</text>
<line x1="314.9" y1="405.1" x2="317.4" y2="405.1" stroke="#9a9a9a" stroke-width="1"/>
<text x="313.4" y="407.7" font-size="7.3" font-weight="normal" fill="#444" text-anchor="end" font-family='"Liberation Sans", sans-serif'>0.8</text>
<line x1="314.9" y1="392.4" x2="317.4" y2="392.4" stroke="#9a9a9a" stroke-width="1"/>
<text x="313.4" y="395.0" font-size="7.3" font-weight="normal" fill="#444" text-anchor="end" font-family='"Liberation Sans", sans-serif'>0.9</text>
<line x1="314.9" y1="379.7" x2="317.4" y2="379.7" stroke="#9a9a9a" stroke-width="1"/>
<text x="313.4" y="382.3" font-size="7.3" font-weight="normal" fill="#444" text-anchor="end" font-family='"Liberation Sans", sans-serif'>1</text>
<line x1="322.8" y1="511.8" x2="322.8" y2="514.3" stroke="#9a9a9a" stroke-width="1"/>
<text x="322.8" y="521.8" font-size="7" font-weight="normal" fill="#555" text-anchor="middle" font-family='"Liberation Sans", sans-serif'>0</text>
<line x1="354.1" y1="511.8" x2="354.1" y2="514.3" stroke="#9a9a9a" stroke-width="1"/>
<text x="354.1" y="521.8" font-size="7" font-weight="normal" fill="#555" text-anchor="middle" font-family='"Liberation Sans", sans-serif'>5</text>
<line x1="385.4" y1="511.8" x2="385.4" y2="514.3" stroke="#9a9a9a" stroke-width="1"/>
<text x="385.4" y="521.8" font-size="7" font-weight="normal" fill="#555" text-anchor="middle" font-family='"Liberation Sans", sans-serif'>10</text>
<line x1="416.7" y1="511.8" x2="416.7" y2="514.3" stroke="#9a9a9a" stroke-width="1"/>
<text x="416.7" y="521.8" font-size="7" font-weight="normal" fill="#555" text-anchor="middle" font-family='"Liberation Sans", sans-serif'>15</text>
<line x1="448.0" y1="511.8" x2="448.0" y2="514.3" stroke="#9a9a9a" stroke-width="1"/>
<text x="448.0" y="521.8" font-size="7" font-weight="normal" fill="#555" text-anchor="middle" font-family='"Liberation Sans", sans-serif'>20</text>
<line x1="479.3" y1="511.8" x2="479.3" y2="514.3" stroke="#9a9a9a" stroke-width="1"/>
<text x="479.3" y="521.8" font-size="7" font-weight="normal" fill="#555" text-anchor="middle" font-family='"Liberation Sans", sans-serif'>25</text>
<line x1="510.6" y1="511.8" x2="510.6" y2="514.3" stroke="#9a9a9a" stroke-width="1"/>
<text x="510.6" y="521.8" font-size="7" font-weight="normal" fill="#555" text-anchor="middle" font-family='"Liberation Sans", sans-serif'>30</text>
<line x1="329.1" y1="511.8" x2="329.1" y2="513.3" stroke="#9a9a9a" stroke-width="0.8"/>
<line x1="335.3" y1="511.8" x2="335.3" y2="513.3" stroke="#9a9a9a" stroke-width="0.8"/>
<line x1="341.6" y1="511.8" x2="341.6" y2="513.3" stroke="#9a9a9a" stroke-width="0.8"/>
<line x1="347.8" y1="511.8" x2="347.8" y2="513.3" stroke="#9a9a9a" stroke-width="0.8"/>
<line x1="360.4" y1="511.8" x2="360.4" y2="513.3" stroke="#9a9a9a" stroke-width="0.8"/>
<line x1="366.6" y1="511.8" x2="366.6" y2="513.3" stroke="#9a9a9a" stroke-width="0.8"/>
<line x1="372.9" y1="511.8" x2="372.9" y2="513.3" stroke="#9a9a9a" stroke-width="0.8"/>
<line x1="379.1" y1="511.8" x2="379.1" y2="513.3" stroke="#9a9a9a" stroke-width="0.8"/>
<line x1="391.7" y1="511.8" x2="391.7" y2="513.3" stroke="#9a9a9a" stroke-width="0.8"/>
<line x1="397.9" y1="511.8" x2="397.9" y2="513.3" stroke="#9a9a9a" stroke-width="0.8"/>
<line x1="404.2" y1="511.8" x2="404.2" y2="513.3" stroke="#9a9a9a" stroke-width="0.8"/>
<line x1="410.4" y1="511.8" x2="410.4" y2="513.3" stroke="#9a9a9a" stroke-width="0.8"/>
<line x1="423.0" y1="511.8" x2="423.0" y2="513.3" stroke="#9a9a9a" stroke-width="0.8"/>
<line x1="429.2" y1="511.8" x2="429.2" y2="513.3" stroke="#9a9a9a" stroke-width="0.8"/>
<line x1="435.5" y1="511.8" x2="435.5" y2="513.3" stroke="#9a9a9a" stroke-width="0.8"/>
<line x1="441.7" y1="511.8" x2="441.7" y2="513.3" stroke="#9a9a9a" stroke-width="0.8"/>
<line x1="454.3" y1="511.8" x2="454.3" y2="513.3" stroke="#9a9a9a" stroke-width="0.8"/>
<line x1="460.5" y1="511.8" x2="460.5" y2="513.3" stroke="#9a9a9a" stroke-width="0.8"/>
<line x1="466.8" y1="511.8" x2="466.8" y2="513.3" stroke="#9a9a9a" stroke-width="0.8"/>
<line x1="473.0" y1="511.8" x2="473.0" y2="513.3" stroke="#9a9a9a" stroke-width="0.8"/>
<line x1="485.6" y1="511.8" x2="485.6" y2="513.3" stroke="#9a9a9a" stroke-width="0.8"/>
<line x1="491.8" y1="511.8" x2="491.8" y2="513.3" stroke="#9a9a9a" stroke-width="0.8"/>
<line x1="498.1" y1="511.8" x2="498.1" y2="513.3" stroke="#9a9a9a" stroke-width="0.8"/>
<line x1="504.3" y1="511.8" x2="504.3" y2="513.3" stroke="#9a9a9a" stroke-width="0.8"/>
<text x="271.8" y="375.3" font-size="17.5" font-weight="bold" fill="#000" text-anchor="start" font-family='"Liberation Sans", sans-serif'>F</text>
<text x="401.2" y="386.1" font-size="17.6" font-weight="bold" fill="#000" text-anchor="start" font-family='"Liberation Sans", sans-serif'>p = 0.247</text>
<text x="293.6" y="442.4" font-size="7.35" font-weight="bold" fill="#000" text-anchor="middle" font-family='"Liberation Sans", sans-serif' transform="rotate(-90 293.6 442.4)">Fraction surviving</text>
<text x="410.7" y="534.0" font-size="7.6" font-weight="bold" fill="#000" text-anchor="middle" font-family='"Liberation Sans", sans-serif'>Survival (years)</text>
<polyline points="408.5,448.1 428.2,448.1 428.2,455.3 435.5,455.3 435.5,464.1 464.2,464.1 464.2,478.1 483.0,478.1 483.0,478.1" fill="none" stroke="#4b86d2" stroke-width="1" stroke-linecap="butt" stroke-linejoin="miter"/>
<polyline points="387.7,418.1 402.3,418.1 402.3,422.4 413.1,422.4 413.1,425.0 420.8,425.0 420.8,430.1 426.9,430.1 426.9,435.3 440.0,435.3 440.0,441.9 453.2,441.9 453.2,453.1 499.5,453.1 499.5,479.0 505.9,479.0 505.9,479.0" fill="none" stroke="#e2506a" stroke-width="1" stroke-linecap="butt" stroke-linejoin="miter"/>
<polyline points="349.8,389.6 354.6,391.5 359.4,393.9 364.2,394.9 369.0,395.5 376.0,395.5 377.2,398.3 378.7,402.0 381.5,406.9 384.4,410.8 386.5,415.0 387.7,418.1" fill="none" stroke="#e2506a" stroke-width="1.2"/>
<polyline points="349.8,389.6 349.8,392.5 355.6,396.8 359.4,398.8 364.2,401.2 369.0,403.6 372.9,406.0 376.7,405.0 379.6,406.9 383.5,410.8 386.3,415.6 389.2,420.4 393.1,424.2 396.2,428.1 399.2,433.5 403.1,436.5 405.4,441.9 408.5,448.1" fill="none" stroke="#4b86d2" stroke-width="1.2"/>
<polyline points="324.6,378.9 329.5,378.9 333.4,378.5 335.7,380.5 339.5,382.8 343.4,385.1 347.2,387.4 349.8,389.6" fill="none" stroke="#111" stroke-width="1.4" stroke-linejoin="round"/>
<path d="M324.6 377.3v3.2M326.3 377.3v3.2M328.0 377.3v3.2M329.7 377.3v3.2M331.4 377.1v3.2M333.1 376.9v3.2M334.4 377.8v3.2M335.7 378.9v3.2M337.2 379.8v3.2M338.6 380.7v3.2M340.1 381.6v3.2M341.6 382.4v3.2M343.0 383.3v3.2M344.5 384.2v3.2M345.9 385.0v3.2M347.4 385.9v3.2M348.7 387.0v3.2" stroke="#111" stroke-width="1.0" fill="none"/>
<polyline points="349.8,389.6 354.6,391.5 359.4,393.9 364.2,394.9 369.0,395.5 376.0,395.5 377.2,398.3 378.7,402.0 381.5,406.9 384.4,410.8 386.5,415.0 387.7,418.1" fill="none" stroke="#111" stroke-width="1.9" stroke-linejoin="round" stroke-linecap="butt" stroke-dasharray="1.8 1.3"/>
<polyline points="349.8,389.6 349.8,392.5 355.6,396.8 359.4,398.8 364.2,401.2 369.0,403.6 372.9,406.0 376.7,405.0 379.6,406.9 383.5,410.8 386.3,415.6 389.2,420.4 393.1,424.2 396.2,428.1 399.2,433.5 403.1,436.5 405.4,441.9 408.5,448.1" fill="none" stroke="#111" stroke-width="1.9" stroke-linejoin="round" stroke-linecap="butt" stroke-dasharray="1.8 1.3"/>
<rect x="390.0" y="415.4" width="2.0" height="1.9" fill="#111"/>
<rect x="394.0" y="415.4" width="2.0" height="1.9" fill="#111"/>
<rect x="401.0" y="415.4" width="2.0" height="1.9" fill="#111"/>
<rect x="407.0" y="419.8" width="2.0" height="1.9" fill="#111"/>
<rect x="411.0" y="419.8" width="2.0" height="1.9" fill="#111"/>
<rect x="413.0" y="422.4" width="2.0" height="1.9" fill="#111"/>
<rect x="416.0" y="422.4" width="2.0" height="1.9" fill="#111"/>
<rect x="420.0" y="422.4" width="2.0" height="1.9" fill="#111"/>
<rect x="426.0" y="427.4" width="2.0" height="1.9" fill="#111"/>
<rect x="432.0" y="432.2" width="2.0" height="1.9" fill="#111"/>
<rect x="435.0" y="432.2" width="2.0" height="1.9" fill="#111"/>
<rect x="437.0" y="432.2" width="2.0" height="1.9" fill="#111"/>
<rect x="442.0" y="439.2" width="2.0" height="1.9" fill="#111"/>
<rect x="447.0" y="439.2" width="2.0" height="1.9" fill="#111"/>
<rect x="451.0" y="439.2" width="2.0" height="1.9" fill="#111"/>
<rect x="457.0" y="450.4" width="2.0" height="1.9" fill="#111"/>
<rect x="464.0" y="450.4" width="2.0" height="1.9" fill="#111"/>
<rect x="495.0" y="450.4" width="2.0" height="1.9" fill="#111"/>
<rect x="504.5" y="476.4" width="2.0" height="1.9" fill="#111"/>
<rect x="391.0" y="421.1" width="2.0" height="1.9" fill="#111"/>
<rect x="400.0" y="431.1" width="2.0" height="1.9" fill="#111"/>
<rect x="412.0" y="445.4" width="2.0" height="1.9" fill="#111"/>
<rect x="414.0" y="445.4" width="2.0" height="1.9" fill="#111"/>
<rect x="416.0" y="445.4" width="2.0" height="1.9" fill="#111"/>
<rect x="426.0" y="445.4" width="2.0" height="1.9" fill="#111"/>
<rect x="431.0" y="452.7" width="2.0" height="1.9" fill="#111"/>
<rect x="445.0" y="461.4" width="2.0" height="1.9" fill="#111"/>
<rect x="451.0" y="461.4" width="2.0" height="1.9" fill="#111"/>
<rect x="476.0" y="475.4" width="2.0" height="1.9" fill="#111"/>
<rect x="482.0" y="475.4" width="2.0" height="1.9" fill="#111"/>
<rect x="432.8" y="403.5" width="46.2" height="12.3" fill="#fff" stroke="#8a8a8a" stroke-width="1"/>
<text x="455.9" y="411.9" font-size="7.6" font-weight="normal" fill="#333" text-anchor="middle" font-family='"Liberation Sans", sans-serif'>Low SET<tspan font-size="5.5">-</tspan><tspan font-family='"Liberation Serif", serif' font-size="5.5">α</tspan></text>
<line x1="432.8" y1="415.5" x2="424.6" y2="420.6" stroke="#8a8a8a" stroke-width="0.8"/>
<rect x="407.0" y="486.7" width="47.5" height="11.5" fill="#fff" stroke="#8a8a8a" stroke-width="1"/>
<text x="430.8" y="494.8" font-size="8.0" font-weight="normal" fill="#333" text-anchor="middle" font-family='"Liberation Sans", sans-serif'>High SET<tspan font-size="5.5">-</tspan><tspan font-family='"Liberation Serif", serif' font-size="5.5">α</tspan></text>
<line x1="454.5" y1="487.0" x2="461.1" y2="481.8" stroke="#8a8a8a" stroke-width="0.8"/>
<line x1="43.1" y1="550.0" x2="43.1" y2="690.1" stroke="#9a9a9a" stroke-width="1"/>
<line x1="43.1" y1="690.1" x2="228.5" y2="690.1" stroke="#9a9a9a" stroke-width="1"/>
<line x1="40.6" y1="683.5" x2="43.1" y2="683.5" stroke="#9a9a9a" stroke-width="1"/>
<text x="39.6" y="685.5" font-size="5.5" font-weight="normal" fill="#666" text-anchor="end" font-family='"Liberation Sans", sans-serif'>0</text>
<line x1="40.6" y1="670.7" x2="43.1" y2="670.7" stroke="#9a9a9a" stroke-width="1"/>
<text x="39.6" y="672.7" font-size="5.5" font-weight="normal" fill="#666" text-anchor="end" font-family='"Liberation Sans", sans-serif'>0.1</text>
<line x1="40.6" y1="657.9" x2="43.1" y2="657.9" stroke="#9a9a9a" stroke-width="1"/>
<text x="39.6" y="659.9" font-size="5.5" font-weight="normal" fill="#666" text-anchor="end" font-family='"Liberation Sans", sans-serif'>0.2</text>
<line x1="40.6" y1="645.1" x2="43.1" y2="645.1" stroke="#9a9a9a" stroke-width="1"/>
<text x="39.6" y="647.1" font-size="5.5" font-weight="normal" fill="#666" text-anchor="end" font-family='"Liberation Sans", sans-serif'>0.3</text>
<line x1="40.6" y1="632.3" x2="43.1" y2="632.3" stroke="#9a9a9a" stroke-width="1"/>
<text x="39.6" y="634.2" font-size="5.5" font-weight="normal" fill="#666" text-anchor="end" font-family='"Liberation Sans", sans-serif'>0.4</text>
<line x1="40.6" y1="619.5" x2="43.1" y2="619.5" stroke="#9a9a9a" stroke-width="1"/>
<text x="39.6" y="621.4" font-size="5.5" font-weight="normal" fill="#666" text-anchor="end" font-family='"Liberation Sans", sans-serif'>0.5</text>
<line x1="40.6" y1="606.6" x2="43.1" y2="606.6" stroke="#9a9a9a" stroke-width="1"/>
<text x="39.6" y="608.6" font-size="5.5" font-weight="normal" fill="#666" text-anchor="end" font-family='"Liberation Sans", sans-serif'>0.6</text>
<line x1="40.6" y1="593.8" x2="43.1" y2="593.8" stroke="#9a9a9a" stroke-width="1"/>
<text x="39.6" y="595.8" font-size="5.5" font-weight="normal" fill="#666" text-anchor="end" font-family='"Liberation Sans", sans-serif'>0.7</text>
<line x1="40.6" y1="581.0" x2="43.1" y2="581.0" stroke="#9a9a9a" stroke-width="1"/>
<text x="39.6" y="583.0" font-size="5.5" font-weight="normal" fill="#666" text-anchor="end" font-family='"Liberation Sans", sans-serif'>0.8</text>
<line x1="40.6" y1="568.2" x2="43.1" y2="568.2" stroke="#9a9a9a" stroke-width="1"/>
<text x="39.6" y="570.2" font-size="5.5" font-weight="normal" fill="#666" text-anchor="end" font-family='"Liberation Sans", sans-serif'>0.9</text>
<line x1="40.6" y1="555.4" x2="43.1" y2="555.4" stroke="#9a9a9a" stroke-width="1"/>
<text x="39.6" y="557.4" font-size="5.5" font-weight="normal" fill="#666" text-anchor="end" font-family='"Liberation Sans", sans-serif'>1</text>
<line x1="48.8" y1="690.1" x2="48.8" y2="692.6" stroke="#9a9a9a" stroke-width="1"/>
<text x="48.8" y="698.1" font-size="5.5" font-weight="normal" fill="#666" text-anchor="middle" font-family='"Liberation Sans", sans-serif'>0</text>
<line x1="79.2" y1="690.1" x2="79.2" y2="692.6" stroke="#9a9a9a" stroke-width="1"/>
<text x="79.2" y="698.1" font-size="5.5" font-weight="normal" fill="#666" text-anchor="middle" font-family='"Liberation Sans", sans-serif'>5</text>
<line x1="109.6" y1="690.1" x2="109.6" y2="692.6" stroke="#9a9a9a" stroke-width="1"/>
<text x="109.6" y="698.1" font-size="5.5" font-weight="normal" fill="#666" text-anchor="middle" font-family='"Liberation Sans", sans-serif'>10</text>
<line x1="140.0" y1="690.1" x2="140.0" y2="692.6" stroke="#9a9a9a" stroke-width="1"/>
<text x="140.0" y="698.1" font-size="5.5" font-weight="normal" fill="#666" text-anchor="middle" font-family='"Liberation Sans", sans-serif'>15</text>
<line x1="170.4" y1="690.1" x2="170.4" y2="692.6" stroke="#9a9a9a" stroke-width="1"/>
<text x="170.4" y="698.1" font-size="5.5" font-weight="normal" fill="#666" text-anchor="middle" font-family='"Liberation Sans", sans-serif'>20</text>
<line x1="200.8" y1="690.1" x2="200.8" y2="692.6" stroke="#9a9a9a" stroke-width="1"/>
<text x="200.8" y="698.1" font-size="5.5" font-weight="normal" fill="#666" text-anchor="middle" font-family='"Liberation Sans", sans-serif'>25</text>
<line x1="64.0" y1="690.1" x2="64.0" y2="691.6" stroke="#9a9a9a" stroke-width="0.8"/>
<line x1="94.4" y1="690.1" x2="94.4" y2="691.6" stroke="#9a9a9a" stroke-width="0.8"/>
<line x1="124.8" y1="690.1" x2="124.8" y2="691.6" stroke="#9a9a9a" stroke-width="0.8"/>
<line x1="155.2" y1="690.1" x2="155.2" y2="691.6" stroke="#9a9a9a" stroke-width="0.8"/>
<line x1="185.6" y1="690.1" x2="185.6" y2="691.6" stroke="#9a9a9a" stroke-width="0.8"/>
<line x1="216.0" y1="690.1" x2="216.0" y2="691.6" stroke="#9a9a9a" stroke-width="0.8"/>
<text x="1.8" y="554.2" font-size="17.5" font-weight="bold" fill="#000" text-anchor="start" font-family='"Liberation Sans", sans-serif'>G</text>
<text x="130.1" y="571.4" font-size="17.6" font-weight="bold" fill="#000" text-anchor="start" font-family='"Liberation Sans", sans-serif'>p = 0.997</text>
<text x="22.2" y="621.1" font-size="7.75" font-weight="bold" fill="#000" text-anchor="middle" font-family='"Liberation Sans", sans-serif' transform="rotate(-90 22.2 621.1)">Fraction surviving</text>
<text x="134.5" y="713.1" font-size="8" font-weight="bold" fill="#000" text-anchor="middle" font-family='"Liberation Sans", sans-serif'>Survival (years)</text>
<polyline points="86.5,570.0 101.9,570.0 101.9,576.9 104.6,583.8 107.7,590.0 112.3,594.6 120.0,595.5 125.4,595.0" fill="none" stroke="#e2506a" stroke-width="1.2"/>
<polyline points="163.1,628.4 186.9,628.4 186.9,639.8 221.5,639.8 221.5,661.5 224.6,661.5 224.6,661.5" fill="none" stroke="#4b86d2" stroke-width="1" stroke-linecap="butt" stroke-linejoin="miter"/>
<polyline points="125.4,595.0 125.4,595.0 125.4,601.2 136.9,601.2 136.9,606.5 145.4,606.5 145.4,610.4 151.5,610.4 151.5,624.2 176.2,624.2 176.2,644.2 217.5,644.2 217.5,644.2" fill="none" stroke="#e2506a" stroke-width="1" stroke-linecap="butt" stroke-linejoin="miter"/>
<polyline points="120.0,597.7 123.1,602.3 127.7,606.9 130.8,611.5 133.1,613.5" fill="none" stroke="#4b86d2" stroke-width="1.2"/>
<polyline points="133.1,613.5 144.6,613.5 144.6,615.8 151.5,615.8 153.8,616.9 156.2,617.3 159.2,622.7 163.1,628.4" fill="none" stroke="#4b86d2" stroke-width="1.0"/>
<polyline points="51.2,553.8 60.4,556.9 68.1,560.8 75.8,564.6 83.5,567.7 91.2,569.7 98.8,570.0 101.9,572.3 104.2,579.2 106.5,585.5" fill="none" stroke="#111" stroke-width="2.2" stroke-linejoin="round" stroke-linecap="butt" stroke-dasharray="2 1.1"/>
<polyline points="51.2,555.4 60.4,560.0 68.1,563.8 75.8,568.5 83.5,572.3 91.2,576.2 98.8,578.5 103.5,580.8 106.5,586.9 111.2,591.5 117.3,596.2 120.0,597.7" fill="none" stroke="#111" stroke-width="2.2" stroke-linejoin="round" stroke-linecap="butt" stroke-dasharray="1.8 1.2"/>
<polyline points="120.0,597.7 123.1,602.3 127.7,606.9 130.8,611.5 133.1,613.5" fill="none" stroke="#4b86d2" stroke-width="1.0" stroke-linejoin="round"/>
<polyline points="120.0,597.7 123.1,602.3 127.7,606.9 130.8,611.5 133.1,613.5" fill="none" stroke="#111" stroke-width="0.6" stroke-linejoin="round"/>
<path d="M120.0 596.3v2.8M121.1 597.9v2.8M122.1 599.5v2.8M123.2 601.0v2.8M124.6 602.4v2.8M125.9 603.7v2.8M127.2 605.0v2.8M128.4 606.5v2.8M129.5 608.1v2.8M130.5 609.7v2.8M131.9 611.0v2.8" stroke="#111" stroke-width="1.0" fill="none"/>
<rect x="98.0" y="567.5" width="2.0" height="1.9" fill="#111"/>
<rect x="101.0" y="570.0" width="2.0" height="1.9" fill="#111"/>
<rect x="121.0" y="593.0" width="2.0" height="1.9" fill="#111"/>
<rect x="127.0" y="598.5" width="2.0" height="1.9" fill="#111"/>
<rect x="132.5" y="598.5" width="2.0" height="1.9" fill="#111"/>
<rect x="138.0" y="603.8" width="2.0" height="1.9" fill="#111"/>
<rect x="142.0" y="603.8" width="2.0" height="1.9" fill="#111"/>
<rect x="149.0" y="608.0" width="2.0" height="1.9" fill="#111"/>
<rect x="157.0" y="621.5" width="2.0" height="1.9" fill="#111"/>
<rect x="166.7" y="625.3" width="2.0" height="1.9" fill="#111"/>
<rect x="169.8" y="625.3" width="2.0" height="1.9" fill="#111"/>
<rect x="177.5" y="621.5" width="2.0" height="1.9" fill="#111"/>
<rect x="216.0" y="641.5" width="2.0" height="1.9" fill="#111"/>
<rect x="112.0" y="591.5" width="2.0" height="1.9" fill="#111"/>
<rect x="115.0" y="594.0" width="2.0" height="1.9" fill="#111"/>
<rect x="117.0" y="595.5" width="2.0" height="1.9" fill="#111"/>
<rect x="120.0" y="599.0" width="2.0" height="1.9" fill="#111"/>
<rect x="123.0" y="603.0" width="2.0" height="1.9" fill="#111"/>
<rect x="126.0" y="605.0" width="2.0" height="1.9" fill="#111"/>
<rect x="129.0" y="609.0" width="2.0" height="1.9" fill="#111"/>
<rect x="134.5" y="611.0" width="2.0" height="1.9" fill="#111"/>
<rect x="137.0" y="611.0" width="2.0" height="1.9" fill="#111"/>
<rect x="145.0" y="613.2" width="2.0" height="1.9" fill="#111"/>
<rect x="148.0" y="613.2" width="2.0" height="1.9" fill="#111"/>
<rect x="151.0" y="613.2" width="2.0" height="1.9" fill="#111"/>
<rect x="154.0" y="614.5" width="2.0" height="1.9" fill="#111"/>
<rect x="157.0" y="618.0" width="2.0" height="1.9" fill="#111"/>
<rect x="160.0" y="623.0" width="2.0" height="1.9" fill="#111"/>
<rect x="164.0" y="625.8" width="2.0" height="1.9" fill="#111"/>
<rect x="198.0" y="637.2" width="2.0" height="1.9" fill="#111"/>
<rect x="203.0" y="637.2" width="2.0" height="1.9" fill="#111"/>
<rect x="225.5" y="659.0" width="2.0" height="1.9" fill="#111"/>
<rect x="144.4" y="581.6" width="56.3" height="11.9" fill="#fff" stroke="#8a8a8a" stroke-width="1"/>
<text x="172.6" y="590.1" font-size="8.1" font-weight="normal" fill="#333" text-anchor="middle" font-family='"Liberation Sans", sans-serif'>Low total SET</text>
<line x1="144.6" y1="593.9" x2="137.7" y2="600.0" stroke="#8a8a8a" stroke-width="0.8"/>
<rect x="65.4" y="621.0" width="58.2" height="12.5" fill="#fff" stroke="#8a8a8a" stroke-width="1"/>
<text x="94.5" y="630.0" font-size="8.1" font-weight="normal" fill="#333" text-anchor="middle" font-family='"Liberation Sans", sans-serif'>High total SET</text>
<line x1="123.4" y1="620.8" x2="132.3" y2="614.6" stroke="#8a8a8a" stroke-width="0.8"/>
<line x1="317.7" y1="556.6" x2="317.7" y2="691.3" stroke="#9a9a9a" stroke-width="1"/>
<line x1="317.7" y1="691.3" x2="516.9" y2="691.3" stroke="#9a9a9a" stroke-width="1"/>
<line x1="315.2" y1="684.5" x2="317.7" y2="684.5" stroke="#9a9a9a" stroke-width="1"/>
<text x="313.7" y="687.2" font-size="7.5" font-weight="normal" fill="#444" text-anchor="end" font-family='"Liberation Sans", sans-serif'>0.0</text>
<line x1="315.2" y1="672.1" x2="317.7" y2="672.1" stroke="#9a9a9a" stroke-width="1"/>
<text x="313.7" y="674.8" font-size="7.5" font-weight="normal" fill="#444" text-anchor="end" font-family='"Liberation Sans", sans-serif'>0.1</text>
<line x1="315.2" y1="659.7" x2="317.7" y2="659.7" stroke="#9a9a9a" stroke-width="1"/>
<text x="313.7" y="662.4" font-size="7.5" font-weight="normal" fill="#444" text-anchor="end" font-family='"Liberation Sans", sans-serif'>0.2</text>
<line x1="315.2" y1="647.2" x2="317.7" y2="647.2" stroke="#9a9a9a" stroke-width="1"/>
<text x="313.7" y="649.9" font-size="7.5" font-weight="normal" fill="#444" text-anchor="end" font-family='"Liberation Sans", sans-serif'>0.3</text>
<line x1="315.2" y1="634.8" x2="317.7" y2="634.8" stroke="#9a9a9a" stroke-width="1"/>
<text x="313.7" y="637.5" font-size="7.5" font-weight="normal" fill="#444" text-anchor="end" font-family='"Liberation Sans", sans-serif'>0.4</text>
<line x1="315.2" y1="622.4" x2="317.7" y2="622.4" stroke="#9a9a9a" stroke-width="1"/>
<text x="313.7" y="625.1" font-size="7.5" font-weight="normal" fill="#444" text-anchor="end" font-family='"Liberation Sans", sans-serif'>0.5</text>
<line x1="315.2" y1="610.0" x2="317.7" y2="610.0" stroke="#9a9a9a" stroke-width="1"/>
<text x="313.7" y="612.7" font-size="7.5" font-weight="normal" fill="#444" text-anchor="end" font-family='"Liberation Sans", sans-serif'>0.6</text>
<line x1="315.2" y1="597.6" x2="317.7" y2="597.6" stroke="#9a9a9a" stroke-width="1"/>
<text x="313.7" y="600.3" font-size="7.5" font-weight="normal" fill="#444" text-anchor="end" font-family='"Liberation Sans", sans-serif'>0.7</text>
<line x1="315.2" y1="585.1" x2="317.7" y2="585.1" stroke="#9a9a9a" stroke-width="1"/>
<text x="313.7" y="587.8" font-size="7.5" font-weight="normal" fill="#444" text-anchor="end" font-family='"Liberation Sans", sans-serif'>0.8</text>
<line x1="315.2" y1="572.7" x2="317.7" y2="572.7" stroke="#9a9a9a" stroke-width="1"/>
<text x="313.7" y="575.4" font-size="7.5" font-weight="normal" fill="#444" text-anchor="end" font-family='"Liberation Sans", sans-serif'>0.9</text>
<line x1="315.2" y1="560.3" x2="317.7" y2="560.3" stroke="#9a9a9a" stroke-width="1"/>
<text x="313.7" y="563.0" font-size="7.5" font-weight="normal" fill="#444" text-anchor="end" font-family='"Liberation Sans", sans-serif'>1.0</text>
<line x1="322.3" y1="691.3" x2="322.3" y2="693.8" stroke="#9a9a9a" stroke-width="1"/>
<text x="322.3" y="701.3" font-size="7" font-weight="normal" fill="#555" text-anchor="middle" font-family='"Liberation Sans", sans-serif'>0</text>
<line x1="355.0" y1="691.3" x2="355.0" y2="693.8" stroke="#9a9a9a" stroke-width="1"/>
<text x="355.0" y="701.3" font-size="7" font-weight="normal" fill="#555" text-anchor="middle" font-family='"Liberation Sans", sans-serif'>5</text>
<line x1="387.7" y1="691.3" x2="387.7" y2="693.8" stroke="#9a9a9a" stroke-width="1"/>
<text x="387.7" y="701.3" font-size="7" font-weight="normal" fill="#555" text-anchor="middle" font-family='"Liberation Sans", sans-serif'>10</text>
<line x1="420.4" y1="691.3" x2="420.4" y2="693.8" stroke="#9a9a9a" stroke-width="1"/>
<text x="420.4" y="701.3" font-size="7" font-weight="normal" fill="#555" text-anchor="middle" font-family='"Liberation Sans", sans-serif'>15</text>
<line x1="453.1" y1="691.3" x2="453.1" y2="693.8" stroke="#9a9a9a" stroke-width="1"/>
<text x="453.1" y="701.3" font-size="7" font-weight="normal" fill="#555" text-anchor="middle" font-family='"Liberation Sans", sans-serif'>20</text>
<line x1="485.8" y1="691.3" x2="485.8" y2="693.8" stroke="#9a9a9a" stroke-width="1"/>
<text x="485.8" y="701.3" font-size="7" font-weight="normal" fill="#555" text-anchor="middle" font-family='"Liberation Sans", sans-serif'>25</text>
<line x1="328.8" y1="691.3" x2="328.8" y2="692.8" stroke="#9a9a9a" stroke-width="0.8"/>
<line x1="335.4" y1="691.3" x2="335.4" y2="692.8" stroke="#9a9a9a" stroke-width="0.8"/>
<line x1="341.9" y1="691.3" x2="341.9" y2="692.8" stroke="#9a9a9a" stroke-width="0.8"/>
<line x1="348.5" y1="691.3" x2="348.5" y2="692.8" stroke="#9a9a9a" stroke-width="0.8"/>
<line x1="361.5" y1="691.3" x2="361.5" y2="692.8" stroke="#9a9a9a" stroke-width="0.8"/>
<line x1="368.1" y1="691.3" x2="368.1" y2="692.8" stroke="#9a9a9a" stroke-width="0.8"/>
<line x1="374.6" y1="691.3" x2="374.6" y2="692.8" stroke="#9a9a9a" stroke-width="0.8"/>
<line x1="381.2" y1="691.3" x2="381.2" y2="692.8" stroke="#9a9a9a" stroke-width="0.8"/>
<line x1="394.2" y1="691.3" x2="394.2" y2="692.8" stroke="#9a9a9a" stroke-width="0.8"/>
<line x1="400.8" y1="691.3" x2="400.8" y2="692.8" stroke="#9a9a9a" stroke-width="0.8"/>
<line x1="407.3" y1="691.3" x2="407.3" y2="692.8" stroke="#9a9a9a" stroke-width="0.8"/>
<line x1="413.9" y1="691.3" x2="413.9" y2="692.8" stroke="#9a9a9a" stroke-width="0.8"/>
<line x1="426.9" y1="691.3" x2="426.9" y2="692.8" stroke="#9a9a9a" stroke-width="0.8"/>
<line x1="433.5" y1="691.3" x2="433.5" y2="692.8" stroke="#9a9a9a" stroke-width="0.8"/>
<line x1="440.0" y1="691.3" x2="440.0" y2="692.8" stroke="#9a9a9a" stroke-width="0.8"/>
<line x1="446.6" y1="691.3" x2="446.6" y2="692.8" stroke="#9a9a9a" stroke-width="0.8"/>
<line x1="459.6" y1="691.3" x2="459.6" y2="692.8" stroke="#9a9a9a" stroke-width="0.8"/>
<line x1="466.2" y1="691.3" x2="466.2" y2="692.8" stroke="#9a9a9a" stroke-width="0.8"/>
<line x1="472.7" y1="691.3" x2="472.7" y2="692.8" stroke="#9a9a9a" stroke-width="0.8"/>
<line x1="479.3" y1="691.3" x2="479.3" y2="692.8" stroke="#9a9a9a" stroke-width="0.8"/>
<line x1="492.3" y1="691.3" x2="492.3" y2="692.8" stroke="#9a9a9a" stroke-width="0.8"/>
<line x1="498.9" y1="691.3" x2="498.9" y2="692.8" stroke="#9a9a9a" stroke-width="0.8"/>
<line x1="505.4" y1="691.3" x2="505.4" y2="692.8" stroke="#9a9a9a" stroke-width="0.8"/>
<line x1="512.0" y1="691.3" x2="512.0" y2="692.8" stroke="#9a9a9a" stroke-width="0.8"/>
<text x="270.5" y="553.8" font-size="17.5" font-weight="bold" fill="#000" text-anchor="start" font-family='"Liberation Sans", sans-serif'>H</text>
<text x="401.2" y="558.6" font-size="17.6" font-weight="bold" fill="#000" text-anchor="start" font-family='"Liberation Sans", sans-serif'>p = 0.008</text>
<text x="293.8" y="620.9" font-size="8.35" font-weight="bold" fill="#000" text-anchor="middle" font-family='"Liberation Sans", sans-serif' transform="rotate(-90 293.8 620.9)">Fraction surviving</text>
<text x="416.6" y="716.2" font-size="8.2" font-weight="bold" fill="#000" text-anchor="middle" font-family='"Liberation Sans", sans-serif'>Survival (years)</text>
<polyline points="396.2,612.3 403.1,612.3 403.1,612.3 406.9,612.3 406.9,616.2 410.8,616.2 410.8,619.2 413.1,619.2 413.1,623.8 417.7,623.8 417.7,626.3 432.5,626.3 432.5,634.0 445.0,634.0 445.0,641.2 470.4,641.2 470.4,655.6 507.9,655.6 507.9,670.0 514.2,670.0 514.2,670.0" fill="none" stroke="#4b86d2" stroke-width="1" stroke-linecap="butt" stroke-linejoin="miter"/>
<polyline points="390.8,585.3 399.2,585.3 399.2,585.0 400.0,585.0 400.0,589.2 403.1,589.2 403.1,591.5 405.4,591.5 405.4,593.8 407.7,593.8 407.7,596.9 425.4,596.9 425.4,602.7 431.9,602.7 431.9,609.0 440.2,609.0 440.2,616.7 458.5,616.7 458.5,627.7 503.7,627.7 503.7,627.7" fill="none" stroke="#e2506a" stroke-width="1" stroke-linecap="butt" stroke-linejoin="miter"/>
<polyline points="325.4,559.2 335.4,559.9 343.1,563.0 350.8,565.3 356.9,568.4 363.1,569.2 367.7,572.2 383.1,572.2 386.2,577.6 389.2,583.0 390.8,585.3" fill="none" stroke="#e2506a" stroke-width="1.2"/>
<polyline points="325.4,559.2 335.4,559.9 343.1,563.0 350.8,565.3 356.9,568.4 363.1,569.2 367.7,572.2 383.1,572.2 386.2,577.6 389.2,583.0 390.8,585.3" fill="none" stroke="#111" stroke-width="1.6" stroke-linejoin="round" stroke-linecap="butt" stroke-dasharray="1.8 1.5"/>
<polyline points="325.4,559.2 336.9,564.5 341.5,567.6 346.2,571.5 352.3,576.1 360.0,579.9 369.2,583.8 376.9,587.6 380.0,590.7 383.1,596.1 386.2,600.7 389.2,603.8 391.5,607.7 396.2,612.3" fill="none" stroke="#111" stroke-width="2.0" stroke-linejoin="round" stroke-linecap="butt" stroke-dasharray="2.4 1.2"/>
<polyline points="396.2,612.3 403.1,612.3 406.9,616.2 410.8,619.2 413.1,623.8 417.7,627.7" fill="none" stroke="#4b86d2" stroke-width="1.0" stroke-linejoin="round"/>
<polyline points="396.2,612.3 403.1,612.3 406.9,616.2 410.8,619.2 413.1,623.8 417.7,627.7" fill="none" stroke="#111" stroke-width="0.6" stroke-linejoin="round"/>
<path d="M396.2 610.9v2.8M398.2 610.9v2.8M400.2 610.9v2.8M402.2 610.9v2.8M403.9 611.7v2.8M405.3 613.1v2.8M406.7 614.6v2.8M408.2 615.8v2.8M409.8 617.0v2.8M411.1 618.5v2.8M412.0 620.2v2.8M412.9 622.0v2.8M414.3 623.4v2.8M415.8 624.7v2.8M417.4 626.0v2.8" stroke="#111" stroke-width="1.0" fill="none"/>
<polyline points="390.8,585.3 399.2,585.0 400.0,589.2 403.1,591.5 405.4,593.8 407.7,596.9" fill="none" stroke="#e2506a" stroke-width="1.0" stroke-linejoin="round"/>
<polyline points="390.8,585.3 399.2,585.0 400.0,589.2 403.1,591.5 405.4,593.8 407.7,596.9" fill="none" stroke="#111" stroke-width="0.6" stroke-linejoin="round"/>
<path d="M390.8 583.9v2.8M392.8 583.8v2.8M394.8 583.8v2.8M396.8 583.7v2.8M398.8 583.6v2.8M399.5 585.2v2.8M399.9 587.1v2.8M401.1 588.6v2.8M402.7 589.8v2.8M404.1 591.1v2.8M405.5 592.6v2.8M406.7 594.2v2.8" stroke="#111" stroke-width="1.0" fill="none"/>
<rect x="389.0" y="583.0" width="2.0" height="1.9" fill="#111"/>
<rect x="392.0" y="583.0" width="2.0" height="1.9" fill="#111"/>
<rect x="397.0" y="583.0" width="2.0" height="1.9" fill="#111"/>
<rect x="404.0" y="591.0" width="2.0" height="1.9" fill="#111"/>
<rect x="414.5" y="594.2" width="2.0" height="1.9" fill="#111"/>
<rect x="418.0" y="594.2" width="2.0" height="1.9" fill="#111"/>
<rect x="424.0" y="594.2" width="2.0" height="1.9" fill="#111"/>
<rect x="430.0" y="600.0" width="2.0" height="1.9" fill="#111"/>
<rect x="437.5" y="606.2" width="2.0" height="1.9" fill="#111"/>
<rect x="453.0" y="614.0" width="2.0" height="1.9" fill="#111"/>
<rect x="457.0" y="614.0" width="2.0" height="1.9" fill="#111"/>
<rect x="463.0" y="625.0" width="2.0" height="1.9" fill="#111"/>
<rect x="471.0" y="625.0" width="2.0" height="1.9" fill="#111"/>
<rect x="483.0" y="625.0" width="2.0" height="1.9" fill="#111"/>
<rect x="489.0" y="625.0" width="2.0" height="1.9" fill="#111"/>
<rect x="502.5" y="625.0" width="2.0" height="1.9" fill="#111"/>
<rect x="416.0" y="625.0" width="2.0" height="1.9" fill="#111"/>
<rect x="431.0" y="624.0" width="2.0" height="1.9" fill="#111"/>
<rect x="435.0" y="631.3" width="2.0" height="1.9" fill="#111"/>
<rect x="447.0" y="638.5" width="2.0" height="1.9" fill="#111"/>
<rect x="450.0" y="638.5" width="2.0" height="1.9" fill="#111"/>
<rect x="457.0" y="638.5" width="2.0" height="1.9" fill="#111"/>
<rect x="469.4" y="653.0" width="2.0" height="1.9" fill="#111"/>
<rect x="512.5" y="667.4" width="2.0" height="1.9" fill="#111"/>
<rect x="409.6" y="564.5" width="73.0" height="13.3" fill="#fff" stroke="#8a8a8a" stroke-width="1"/>
<text x="446.1" y="573.8" font-size="8.6" font-weight="normal" fill="#333" text-anchor="middle" font-family='"Liberation Sans", sans-serif'>Low <tspan font-family='"Liberation Serif", serif' fill="#555">α</tspan><tspan fill="#555">/</tspan><tspan font-family='"Liberation Serif", serif' fill="#555">β</tspan> SET ratio</text>
<line x1="409.6" y1="577.8" x2="402.2" y2="582.5" stroke="#8a8a8a" stroke-width="0.8"/>
<rect x="398.7" y="664.4" width="75.1" height="14.1" fill="#fff" stroke="#8a8a8a" stroke-width="1"/>
<text x="436.2" y="674.3" font-size="8.6" font-weight="normal" fill="#333" text-anchor="middle" font-family='"Liberation Sans", sans-serif'>High <tspan font-family='"Liberation Serif", serif' fill="#555">α</tspan><tspan fill="#555">/</tspan><tspan font-family='"Liberation Serif", serif' fill="#555">β</tspan> SET ratio</text>
<line x1="458.8" y1="664.4" x2="467.5" y2="658.7" stroke="#8a8a8a" stroke-width="0.8"/>
</svg>
</body></html>
